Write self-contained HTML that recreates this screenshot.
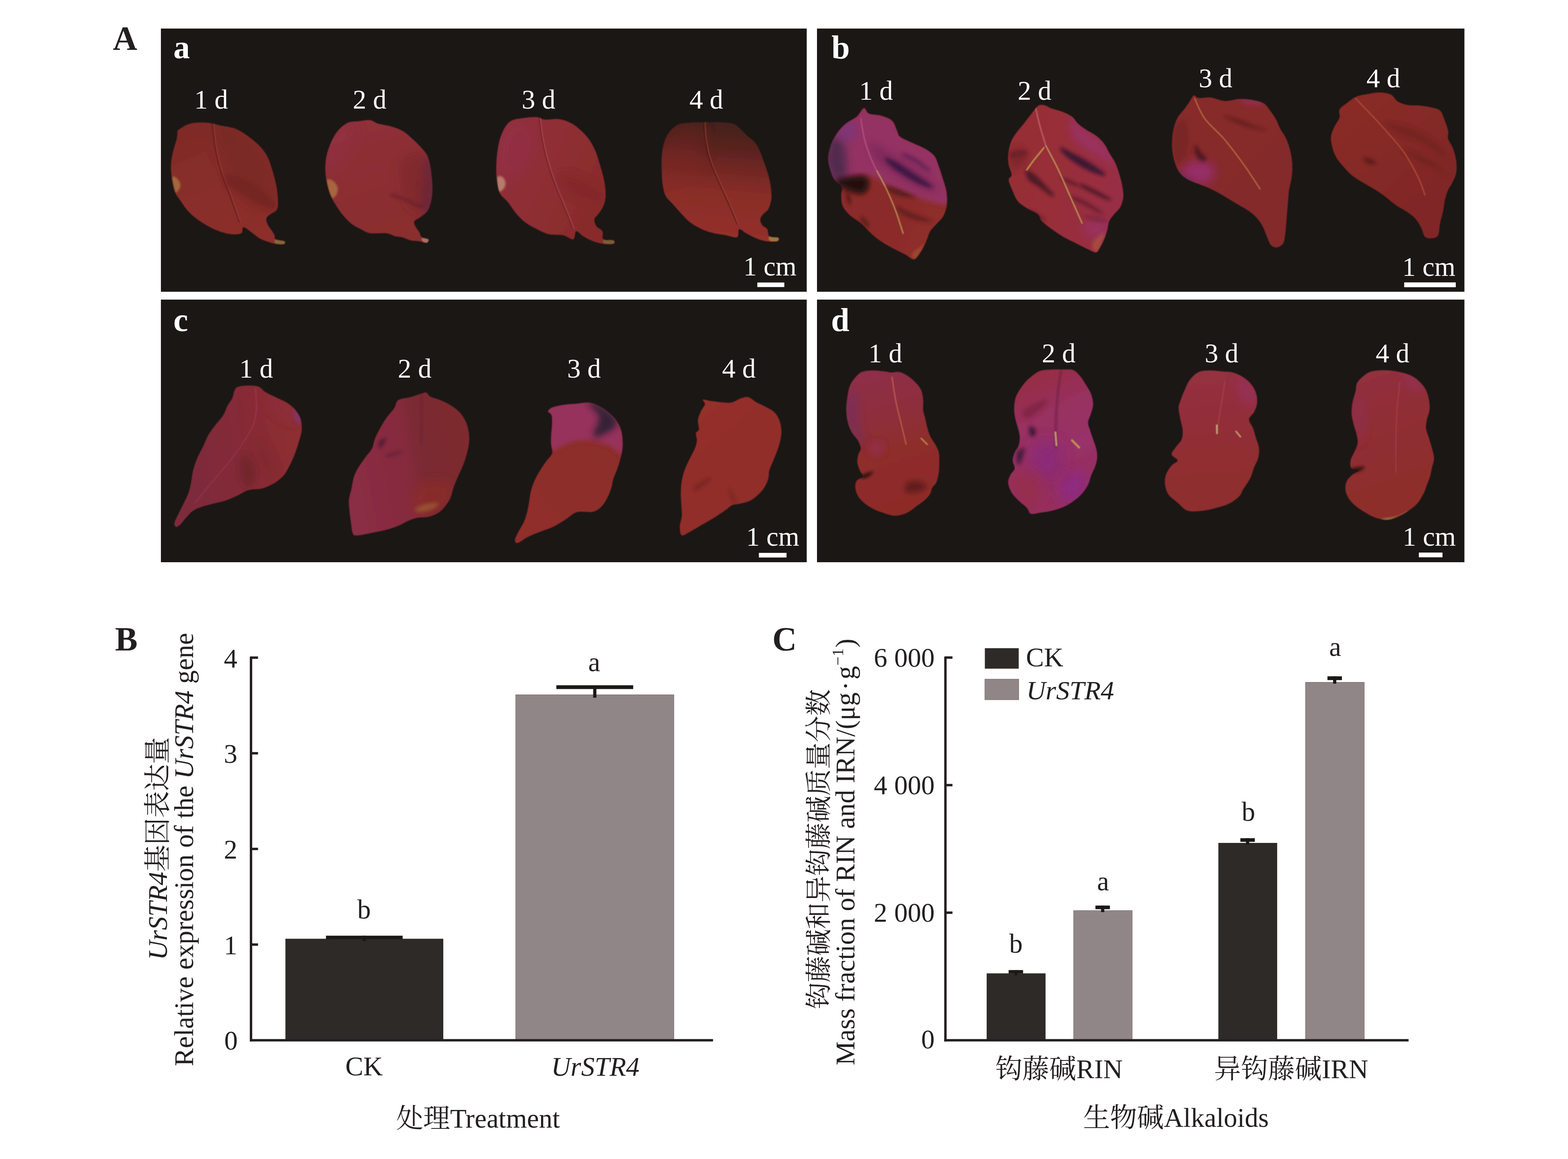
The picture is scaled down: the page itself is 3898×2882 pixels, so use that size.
<!DOCTYPE html>
<html lang="zh"><head><meta charset="utf-8"><title>Figure</title>
<style>
html,body{margin:0;padding:0;background:#fff;}
body{width:3898px;height:2882px;overflow:hidden;}
svg{display:block;}
text{font-family:"Liberation Serif","Noto Serif CJK SC",serif;}
.cj{font-family:"Noto Serif CJK SC","Liberation Serif",serif;}
</style></head><body>
<svg width="3898" height="2882" viewBox="0 0 3898 2882">
<defs>
<filter id="s1" x="-5%" y="-5%" width="110%" height="110%"><feGaussianBlur stdDeviation="1.3"/></filter>
<filter id="b2" x="-50%" y="-50%" width="200%" height="200%"><feGaussianBlur stdDeviation="2"/></filter>
<filter id="b3" x="-50%" y="-50%" width="200%" height="200%"><feGaussianBlur stdDeviation="3"/></filter>
<filter id="b4" x="-50%" y="-50%" width="200%" height="200%"><feGaussianBlur stdDeviation="4"/></filter>
<filter id="b5" x="-50%" y="-50%" width="200%" height="200%"><feGaussianBlur stdDeviation="5"/></filter>
<filter id="b6" x="-50%" y="-50%" width="200%" height="200%"><feGaussianBlur stdDeviation="6"/></filter>
<filter id="b8" x="-50%" y="-50%" width="200%" height="200%"><feGaussianBlur stdDeviation="8"/></filter>
<filter id="b10" x="-50%" y="-50%" width="200%" height="200%"><feGaussianBlur stdDeviation="10"/></filter>
<filter id="b12" x="-50%" y="-50%" width="200%" height="200%"><feGaussianBlur stdDeviation="12"/></filter>
<filter id="b16" x="-50%" y="-50%" width="200%" height="200%"><feGaussianBlur stdDeviation="16"/></filter>
<filter id="b24" x="-50%" y="-50%" width="200%" height="200%"><feGaussianBlur stdDeviation="24"/></filter>
<linearGradient id="ga1" gradientUnits="userSpaceOnUse" x1="485" y1="307.5" x2="610" y2="595"><stop offset="0" stop-color="#7e2b27"/><stop offset="0.4" stop-color="#882e2a"/><stop offset="1" stop-color="#8c2f2a"/></linearGradient>
<clipPath id="ca1"><path d="M442.5 323.8C447.7 320 460.4 310.6 472.5 307.5C484.6 304.4 502.1 304.2 515 305C527.9 305.8 538.3 310 550 312.5C561.7 315 574.2 315.8 585 320C595.8 324.2 605 330.4 615 337.5C625 344.6 636.7 353.8 645 362.5C653.3 371.2 659.6 379.6 665 390C670.4 400.4 673.8 412.5 677.5 425C681.2 437.5 685.2 451.7 687.5 465C689.8 478.3 691.2 495.4 691.2 505C691.2 514.6 690.6 517.9 687.5 522.5C684.4 527.1 676.7 529.2 672.5 532.5C668.3 535.8 663.8 538.3 662.5 542.5C661.2 546.7 662.9 552.5 665 557.5C667.1 562.5 672.1 567.9 675 572.5C677.9 577.1 680.8 581.2 682.5 585C684.2 588.8 680.8 592.5 685 595C689.2 597.5 704.2 597.9 707.5 600C710.8 602.1 708.8 606.5 705 607.5C701.2 608.5 690.8 607.1 685 606.2C679.2 605.4 676.7 604.8 670 602.5C663.3 600.2 652.5 596.7 645 592.5C637.5 588.3 631.7 582.1 625 577.5C618.3 572.9 609.2 564.6 605 565C600.8 565.4 605 577.1 600 580C595 582.9 584.2 583.3 575 582.5C565.8 581.7 554.6 578.3 545 575C535.4 571.7 526.7 567.5 517.5 562.5C508.3 557.5 498.3 551.2 490 545C481.7 538.8 474.6 532.9 467.5 525C460.4 517.1 452.9 505.4 447.5 497.5C442.1 489.6 438.3 486.2 435 477.5C431.7 468.8 429.2 456.2 427.5 445C425.8 433.8 424.6 421.2 425 410C425.4 398.8 427.7 387.9 430 377.5C432.3 367.1 436.9 355.4 438.8 347.5C440.6 339.6 440.6 334 441.2 330C441.9 326 437.3 327.5 442.5 323.8Z"/></clipPath>
<linearGradient id="ga2" gradientUnits="userSpaceOnUse" x1="880" y1="307.5" x2="980" y2="595"><stop offset="0" stop-color="#8f3039"/><stop offset="0.5" stop-color="#8c2f33"/><stop offset="1" stop-color="#8a2e2e"/></linearGradient>
<clipPath id="ca2"><path d="M865 305C873.8 301 883.3 302.3 892.5 301.2C901.7 300.2 912.1 297.7 920 298.8C927.9 299.8 931.7 305 940 307.5C948.3 310 960 310.8 970 313.8C980 316.7 990.8 319.8 1000 325C1009.2 330.2 1017.1 337.9 1025 345C1032.9 352.1 1041.2 360.4 1047.5 367.5C1053.8 374.6 1058.8 379.6 1062.5 387.5C1066.2 395.4 1068.1 405.4 1070 415C1071.9 424.6 1072.9 435 1073.8 445C1074.6 455 1075.4 465.4 1075 475C1074.6 484.6 1073.3 494.2 1071.2 502.5C1069.2 510.8 1066.9 518.8 1062.5 525C1058.1 531.2 1050.4 535.8 1045 540C1039.6 544.2 1032.1 546.2 1030 550C1027.9 553.8 1030.4 557.9 1032.5 562.5C1034.6 567.1 1039.8 572.9 1042.5 577.5C1045.2 582.1 1045 587.1 1048.8 590C1052.5 592.9 1062.9 592.7 1065 595C1067.1 597.3 1065 602.9 1061.2 603.8C1057.5 604.6 1049.4 601 1042.5 600C1035.6 599 1027.1 599.2 1020 597.5C1012.9 595.8 1006.2 591.7 1000 590C993.8 588.3 989.2 589.2 982.5 587.5C975.8 585.8 970.4 581.2 960 580C949.6 578.8 930.4 581.7 920 580C909.6 578.3 905 573.8 897.5 570C890 566.2 882.5 563.3 875 557.5C867.5 551.7 859.2 542.9 852.5 535C845.8 527.1 840 517.9 835 510C830 502.1 826 495.8 822.5 487.5C819 479.2 816 470.4 813.8 460C811.5 449.6 809.2 436.7 808.8 425C808.3 413.3 809 401.7 811.2 390C813.5 378.3 817.7 365.8 822.5 355C827.3 344.2 832.9 333.3 840 325C847.1 316.7 856.2 309 865 305Z"/></clipPath>
<linearGradient id="ga3" gradientUnits="userSpaceOnUse" x1="1237.5" y1="370" x2="1500" y2="495"><stop offset="0" stop-color="#91303c"/><stop offset="0.45" stop-color="#8f2f34"/><stop offset="0.75" stop-color="#8b2d2e"/><stop offset="1" stop-color="#892c2b"/></linearGradient>
<clipPath id="ca3"><path d="M1267.5 302.5C1276.2 296 1288.8 295.6 1300 293.8C1311.2 291.9 1325.8 290.6 1335 291.2C1344.2 291.9 1345.8 296.7 1355 297.5C1364.2 298.3 1379.2 294.8 1390 296.2C1400.8 297.7 1410.8 301.5 1420 306.2C1429.2 311 1437.5 318.1 1445 325C1452.5 331.9 1459.2 339.2 1465 347.5C1470.8 355.8 1475.8 365.4 1480 375C1484.2 384.6 1486.7 394.2 1490 405C1493.3 415.8 1497.5 429.2 1500 440C1502.5 450.8 1504.2 460.8 1505 470C1505.8 479.2 1506.2 487.1 1505 495C1503.8 502.9 1500.8 510.8 1497.5 517.5C1494.2 524.2 1488.3 530.4 1485 535C1481.7 539.6 1477.9 540.4 1477.5 545C1477.1 549.6 1479.2 557.5 1482.5 562.5C1485.8 567.5 1494.6 569.6 1497.5 575C1500.4 580.4 1495.4 591.2 1500 595C1504.6 598.8 1520.8 595.6 1525 597.5C1529.2 599.4 1529.2 604.8 1525 606.2C1520.8 607.7 1508.3 607.3 1500 606.2C1491.7 605.2 1483.3 603.1 1475 600C1466.7 596.9 1457.1 591.7 1450 587.5C1442.9 583.3 1436.7 573.8 1432.5 575C1428.3 576.2 1430.4 593.3 1425 595C1419.6 596.7 1410 587.1 1400 585C1390 582.9 1375.8 585 1365 582.5C1354.2 580 1345 575 1335 570C1325 565 1313.8 559.2 1305 552.5C1296.2 545.8 1289.6 538.3 1282.5 530C1275.4 521.7 1269.2 510.8 1262.5 502.5C1255.8 494.2 1247.1 489.6 1242.5 480C1237.9 470.4 1236.5 456.7 1235 445C1233.5 433.3 1233.3 422.5 1233.8 410C1234.2 397.5 1235.2 382.9 1237.5 370C1239.8 357.1 1242.5 343.8 1247.5 332.5C1252.5 321.2 1258.8 309 1267.5 302.5Z"/></clipPath>
<linearGradient id="ga4" gradientUnits="userSpaceOnUse" x1="1775" y1="307.5" x2="1750" y2="582.5"><stop offset="0" stop-color="#45201c"/><stop offset="0.19" stop-color="#58221f"/><stop offset="0.34" stop-color="#6c2622"/><stop offset="0.6" stop-color="#882d28"/><stop offset="1" stop-color="#94302a"/></linearGradient>
<clipPath id="ca4"><path d="M1685 310C1693.8 305.8 1704.2 306 1715 305C1725.8 304 1737.5 304 1750 303.8C1762.5 303.5 1777.9 303.1 1790 303.8C1802.1 304.4 1814.2 304.8 1822.5 307.5C1830.8 310.2 1834.2 315 1840 320C1845.8 325 1851.2 331.7 1857.5 337.5C1863.8 343.3 1872.1 348.3 1877.5 355C1882.9 361.7 1886.2 369.2 1890 377.5C1893.8 385.8 1896.7 395.4 1900 405C1903.3 414.6 1907.3 425 1910 435C1912.7 445 1915 455 1916.2 465C1917.5 475 1918.5 485.8 1917.5 495C1916.5 504.2 1913.3 513.8 1910 520C1906.7 526.2 1900.8 528.3 1897.5 532.5C1894.2 536.7 1890.4 540.4 1890 545C1889.6 549.6 1892.1 555.8 1895 560C1897.9 564.2 1904.6 565.4 1907.5 570C1910.4 574.6 1907.9 584 1912.5 587.5C1917.1 591 1931.7 589.2 1935 591.2C1938.3 593.3 1937.5 598.5 1932.5 600C1927.5 601.5 1913.8 601.2 1905 600C1896.2 598.8 1888.3 595.8 1880 592.5C1871.7 589.2 1862.1 583.8 1855 580C1847.9 576.2 1841.2 568.3 1837.5 570C1833.8 571.7 1837.9 587.5 1832.5 590C1827.1 592.5 1814.6 586.7 1805 585C1795.4 583.3 1785 582.5 1775 580C1765 577.5 1755 574.6 1745 570C1735 565.4 1723.8 559.2 1715 552.5C1706.2 545.8 1699.6 537.5 1692.5 530C1685.4 522.5 1678.8 514.6 1672.5 507.5C1666.2 500.4 1659.2 495.4 1655 487.5C1650.8 479.6 1649.2 470.4 1647.5 460C1645.8 449.6 1645.4 436.7 1645 425C1644.6 413.3 1644.2 401.2 1645 390C1645.8 378.8 1647.1 367.5 1650 357.5C1652.9 347.5 1656.7 337.9 1662.5 330C1668.3 322.1 1676.2 314.2 1685 310Z"/></clipPath>
<linearGradient id="gb1" gradientUnits="userSpaceOnUse" x1="2105" y1="475" x2="2330" y2="575"><stop offset="0" stop-color="#8a2c29"/><stop offset="1" stop-color="#8e2d2a"/></linearGradient>
<clipPath id="cb1"><path d="M2147.5 268.8C2152.5 267.5 2152.9 279.4 2160 282.5C2167.1 285.6 2180.4 284.6 2190 287.5C2199.6 290.4 2210.8 293.8 2217.5 300C2224.2 306.2 2226.7 318.3 2230 325C2233.3 331.7 2231.2 335 2237.5 340C2243.8 345 2257.1 350 2267.5 355C2277.9 360 2290.8 364.6 2300 370C2309.2 375.4 2317.1 380.8 2322.5 387.5C2327.9 394.2 2329.2 401.2 2332.5 410C2335.8 418.8 2339.2 429.2 2342.5 440C2345.8 450.8 2350.6 463.3 2352.5 475C2354.4 486.7 2355 499.6 2353.8 510C2352.5 520.4 2349 530 2345 537.5C2341 545 2335.4 548.8 2330 555C2324.6 561.2 2317.1 567.5 2312.5 575C2307.9 582.5 2306.2 591.7 2302.5 600C2298.8 608.3 2295 617.5 2290 625C2285 632.5 2279.2 643.8 2272.5 645C2265.8 646.2 2258.8 637.1 2250 632.5C2241.2 627.9 2230 622.9 2220 617.5C2210 612.1 2199.2 606.2 2190 600C2180.8 593.8 2173.3 587.5 2165 580C2156.7 572.5 2148.8 562.5 2140 555C2131.2 547.5 2120 542.1 2112.5 535C2105 527.9 2098.5 520.4 2095 512.5C2091.5 504.6 2091.7 495.4 2091.2 487.5C2090.8 479.6 2095.2 471.7 2092.5 465C2089.8 458.3 2079.6 454.2 2075 447.5C2070.4 440.8 2067.7 433.8 2065 425C2062.3 416.2 2058.8 405.4 2058.8 395C2058.8 384.6 2061.5 372.9 2065 362.5C2068.5 352.1 2073.8 341.7 2080 332.5C2086.2 323.3 2094.2 314.6 2102.5 307.5C2110.8 300.4 2122.5 296.5 2130 290C2137.5 283.5 2142.5 270 2147.5 268.8Z"/></clipPath>
<linearGradient id="gb2" gradientUnits="userSpaceOnUse" x1="2515" y1="425" x2="2790" y2="475"><stop offset="0" stop-color="#962e34"/><stop offset="0.5" stop-color="#982f3a"/><stop offset="1" stop-color="#982f46"/></linearGradient>
<clipPath id="cb2"><path d="M2580 263.8C2585.4 259.8 2589.2 260.2 2595 261.2C2600.8 262.3 2607.5 267.3 2615 270C2622.5 272.7 2631.7 274.2 2640 277.5C2648.3 280.8 2658.3 285 2665 290C2671.7 295 2674.2 302.1 2680 307.5C2685.8 312.9 2692.5 317.5 2700 322.5C2707.5 327.5 2717.5 331.7 2725 337.5C2732.5 343.3 2739.6 350.4 2745 357.5C2750.4 364.6 2752.9 372.1 2757.5 380C2762.1 387.9 2768.3 396.2 2772.5 405C2776.7 413.8 2779.6 422.9 2782.5 432.5C2785.4 442.1 2788.3 452.9 2790 462.5C2791.7 472.1 2793.3 481.2 2792.5 490C2791.7 498.8 2788.8 507.9 2785 515C2781.2 522.1 2774.6 526.7 2770 532.5C2765.4 538.3 2760.4 543.3 2757.5 550C2754.6 556.7 2754.6 565 2752.5 572.5C2750.4 580 2747.9 587.9 2745 595C2742.1 602.1 2738.3 609.6 2735 615C2731.7 620.4 2730 626.7 2725 627.5C2720 628.3 2713.3 623.8 2705 620C2696.7 616.2 2685 610 2675 605C2665 600 2655 595.8 2645 590C2635 584.2 2624.2 576.7 2615 570C2605.8 563.3 2595.8 556.2 2590 550C2584.2 543.8 2586.2 537.9 2580 532.5C2573.8 527.1 2560.8 522.9 2552.5 517.5C2544.2 512.1 2535.8 507.1 2530 500C2524.2 492.9 2521.2 483.8 2517.5 475C2513.8 466.2 2507.9 454.2 2507.5 447.5C2507.1 440.8 2515 441.2 2515 435C2515 428.8 2509 418.3 2507.5 410C2506 401.7 2505.4 394.2 2506.2 385C2507.1 375.8 2509.4 363.8 2512.5 355C2515.6 346.2 2519.6 340.4 2525 332.5C2530.4 324.6 2538.8 315.4 2545 307.5C2551.2 299.6 2556.7 292.3 2562.5 285C2568.3 277.7 2574.6 267.7 2580 263.8Z"/></clipPath>
<linearGradient id="gb3" gradientUnits="userSpaceOnUse" x1="2930" y1="295" x2="3192.5" y2="545"><stop offset="0" stop-color="#882c2c"/><stop offset="0.5" stop-color="#862b2b"/><stop offset="1" stop-color="#842a2b"/></linearGradient>
<clipPath id="cb3"><path d="M2967.5 237.5C2971.2 236 2972.9 242.9 2980 243.8C2987.1 244.6 2999.2 241.2 3010 242.5C3020.8 243.8 3033.3 250.6 3045 251.2C3056.7 251.9 3068.3 246.7 3080 246.2C3091.7 245.8 3104.6 246.9 3115 248.8C3125.4 250.6 3135.4 253.1 3142.5 257.5C3149.6 261.9 3152.5 268.3 3157.5 275C3162.5 281.7 3168.3 290 3172.5 297.5C3176.7 305 3178.3 312.1 3182.5 320C3186.7 327.9 3193.3 335.8 3197.5 345C3201.7 354.2 3205 364.6 3207.5 375C3210 385.4 3211.9 396.7 3212.5 407.5C3213.1 418.3 3212.5 429.6 3211.2 440C3210 450.4 3206.5 460.8 3205 470C3203.5 479.2 3203.3 485.8 3202.5 495C3201.7 504.2 3200.8 515 3200 525C3199.2 535 3198.3 545.4 3197.5 555C3196.7 564.6 3196.2 574.2 3195 582.5C3193.8 590.8 3193.3 599.6 3190 605C3186.7 610.4 3180 614.2 3175 615C3170 615.8 3164.2 614.2 3160 610C3155.8 605.8 3153.3 597.5 3150 590C3146.7 582.5 3144.2 572.9 3140 565C3135.8 557.1 3130.8 549.2 3125 542.5C3119.2 535.8 3112.5 530.4 3105 525C3097.5 519.6 3088.3 515 3080 510C3071.7 505 3063.3 500 3055 495C3046.7 490 3038.3 484.6 3030 480C3021.7 475.4 3013.3 471.2 3005 467.5C2996.7 463.8 2988.3 460.8 2980 457.5C2971.7 454.2 2962.5 451.7 2955 447.5C2947.5 443.3 2940.4 438.8 2935 432.5C2929.6 426.2 2925.8 418.8 2922.5 410C2919.2 401.2 2916.5 390 2915 380C2913.5 370 2913.3 360 2913.8 350C2914.2 340 2915.2 329.6 2917.5 320C2919.8 310.4 2922.9 300.8 2927.5 292.5C2932.1 284.2 2940 276.7 2945 270C2950 263.3 2953.8 257.9 2957.5 252.5C2961.2 247.1 2963.8 239 2967.5 237.5Z"/></clipPath>
<linearGradient id="gb4" gradientUnits="userSpaceOnUse" x1="3325" y1="270" x2="3575" y2="545"><stop offset="0" stop-color="#8a2b27"/><stop offset="0.5" stop-color="#842926"/><stop offset="1" stop-color="#802826"/></linearGradient>
<clipPath id="cb4"><path d="M3372.5 240C3380.8 236.5 3390.4 235.4 3400 233.8C3409.6 232.1 3420.4 229.8 3430 230C3439.6 230.2 3450 231.2 3457.5 235C3465 238.8 3467.9 248.1 3475 252.5C3482.1 256.9 3490.8 259.6 3500 261.2C3509.2 262.9 3520 261.5 3530 262.5C3540 263.5 3551.7 265.4 3560 267.5C3568.3 269.6 3575 270.4 3580 275C3585 279.6 3586.7 286.7 3590 295C3593.3 303.3 3598.3 316.7 3600 325C3601.7 333.3 3597.9 337.5 3600 345C3602.1 352.5 3609.2 360.8 3612.5 370C3615.8 379.2 3618.8 390 3620 400C3621.2 410 3621.7 420.8 3620 430C3618.3 439.2 3613.3 447.9 3610 455C3606.7 462.1 3602.9 465.8 3600 472.5C3597.1 479.2 3594.6 486.2 3592.5 495C3590.4 503.8 3589.6 515 3587.5 525C3585.4 535 3582.1 545 3580 555C3577.9 565 3578.3 578.8 3575 585C3571.7 591.2 3565.4 591.9 3560 592.5C3554.6 593.1 3547.1 593.3 3542.5 588.8C3537.9 584.2 3536.7 572.7 3532.5 565C3528.3 557.3 3523.8 549.2 3517.5 542.5C3511.2 535.8 3502.9 530.4 3495 525C3487.1 519.6 3478.3 515.8 3470 510C3461.7 504.2 3453.3 496.2 3445 490C3436.7 483.8 3429.2 478.3 3420 472.5C3410.8 466.7 3399.6 460.8 3390 455C3380.4 449.2 3370.4 443.8 3362.5 437.5C3354.6 431.2 3349.2 425 3342.5 417.5C3335.8 410 3327.5 400.8 3322.5 392.5C3317.5 384.2 3314.8 376.2 3312.5 367.5C3310.2 358.8 3307.9 348.8 3308.8 340C3309.6 331.2 3314 322.9 3317.5 315C3321 307.1 3327.9 299.6 3330 292.5C3332.1 285.4 3326.7 278.8 3330 272.5C3333.3 266.2 3342.9 260.4 3350 255C3357.1 249.6 3364.2 243.5 3372.5 240Z"/></clipPath>
<linearGradient id="gc1" gradientUnits="userSpaceOnUse" x1="485" y1="1125" x2="747.5" y2="1100"><stop offset="0" stop-color="#7e2a3c"/><stop offset="0.5" stop-color="#862c36"/><stop offset="1" stop-color="#8e2e30"/></linearGradient>
<clipPath id="cc1"><path d="M590 962.5C595.4 960.2 606.2 959 615 958.8C623.8 958.5 635 958.5 642.5 961.2C650 964 652.9 970.6 660 975C667.1 979.4 675.8 982.9 685 987.5C694.2 992.1 706.7 997.1 715 1002.5C723.3 1007.9 729.6 1013.3 735 1020C740.4 1026.7 745 1034.2 747.5 1042.5C750 1050.8 750.8 1060.4 750 1070C749.2 1079.6 745.4 1090 742.5 1100C739.6 1110 736.2 1120.4 732.5 1130C728.8 1139.6 724.6 1148.8 720 1157.5C715.4 1166.2 711.7 1175 705 1182.5C698.3 1190 689.2 1197.1 680 1202.5C670.8 1207.9 660.4 1212.3 650 1215C639.6 1217.7 627.5 1215.8 617.5 1218.8C607.5 1221.7 599.6 1228.1 590 1232.5C580.4 1236.9 570 1241.7 560 1245C550 1248.3 539.6 1250 530 1252.5C520.4 1255 510.8 1257.1 502.5 1260C494.2 1262.9 486.7 1265.4 480 1270C473.3 1274.6 467.9 1281.7 462.5 1287.5C457.1 1293.3 451.7 1301.2 447.5 1305C443.3 1308.8 439.8 1310.8 437.5 1310C435.2 1309.2 432.5 1305.8 433.8 1300C435 1294.2 441 1283.3 445 1275C449 1266.7 453.5 1258.3 457.5 1250C461.5 1241.7 465.8 1233.3 468.8 1225C471.7 1216.7 473.1 1209.2 475 1200C476.9 1190.8 477.5 1180 480 1170C482.5 1160 485.8 1150 490 1140C494.2 1130 500.4 1119.6 505 1110C509.6 1100.4 512.5 1091.2 517.5 1082.5C522.5 1073.8 528.8 1065.8 535 1057.5C541.2 1049.2 550 1040.4 555 1032.5C560 1024.6 561.2 1017.1 565 1010C568.8 1002.9 574.6 996.2 577.5 990C580.4 983.8 580.4 977.1 582.5 972.5C584.6 967.9 584.6 964.8 590 962.5Z"/></clipPath>
<linearGradient id="gc2" gradientUnits="userSpaceOnUse" x1="882.5" y1="1175" x2="1165" y2="1125"><stop offset="0" stop-color="#8a2d44"/><stop offset="0.45" stop-color="#862c3e"/><stop offset="0.6" stop-color="#7a2a32"/><stop offset="1" stop-color="#7e2a2e"/></linearGradient>
<clipPath id="cc2"><path d="M1047.5 978.8C1054.2 976.9 1056.2 975 1060 976.2C1063.8 977.5 1064.2 983.1 1070 986.2C1075.8 989.4 1086.7 991.5 1095 995C1103.3 998.5 1112.1 1002.5 1120 1007.5C1127.9 1012.5 1136.2 1018.3 1142.5 1025C1148.8 1031.7 1153.8 1039.6 1157.5 1047.5C1161.2 1055.4 1163.5 1063.8 1165 1072.5C1166.5 1081.2 1167.1 1090.4 1166.2 1100C1165.4 1109.6 1162.7 1120 1160 1130C1157.3 1140 1153.8 1150.4 1150 1160C1146.2 1169.6 1141.2 1178.8 1137.5 1187.5C1133.8 1196.2 1130.4 1204.2 1127.5 1212.5C1124.6 1220.8 1123.3 1230 1120 1237.5C1116.7 1245 1112.5 1251.2 1107.5 1257.5C1102.5 1263.8 1097.1 1270.4 1090 1275C1082.9 1279.6 1073.8 1282.9 1065 1285C1056.2 1287.1 1045.8 1285.8 1037.5 1287.5C1029.2 1289.2 1022.9 1291.7 1015 1295C1007.1 1298.3 999.2 1303.8 990 1307.5C980.8 1311.2 970.8 1314.6 960 1317.5C949.2 1320.4 936.7 1322.7 925 1325C913.3 1327.3 897.9 1330.8 890 1331.2C882.1 1331.7 880.4 1332.7 877.5 1327.5C874.6 1322.3 874 1309.6 872.5 1300C871 1290.4 869.6 1279.6 868.8 1270C867.9 1260.4 866.7 1251.7 867.5 1242.5C868.3 1233.3 871.7 1224.6 873.8 1215C875.8 1205.4 876.9 1194.2 880 1185C883.1 1175.8 887.5 1168.3 892.5 1160C897.5 1151.7 904.6 1142.5 910 1135C915.4 1127.5 921.2 1122.5 925 1115C928.8 1107.5 929.2 1098.3 932.5 1090C935.8 1081.7 940.4 1073.3 945 1065C949.6 1056.7 954.2 1048.3 960 1040C965.8 1031.7 975 1022.5 980 1015C985 1007.5 983.3 999.6 990 995C996.7 990.4 1010.4 990.2 1020 987.5C1029.6 984.8 1040.8 980.6 1047.5 978.8Z"/></clipPath>
<linearGradient id="gc3" gradientUnits="userSpaceOnUse" x1="1305" y1="1325" x2="1530" y2="1125"><stop offset="0" stop-color="#902e29"/><stop offset="1" stop-color="#8c2d29"/></linearGradient>
<clipPath id="cc3"><path d="M1362.5 1022.5C1363.1 1019.2 1367.9 1015.2 1375 1012.5C1382.1 1009.8 1395 1007.7 1405 1006.2C1415 1004.8 1425 1004.6 1435 1003.8C1445 1002.9 1455.8 1000.2 1465 1001.2C1474.2 1002.3 1482.1 1006 1490 1010C1497.9 1014 1505.8 1019.6 1512.5 1025C1519.2 1030.4 1525 1035.8 1530 1042.5C1535 1049.2 1539.6 1057.1 1542.5 1065C1545.4 1072.9 1546.7 1081.7 1547.5 1090C1548.3 1098.3 1548.3 1106.7 1547.5 1115C1546.7 1123.3 1544.6 1131.7 1542.5 1140C1540.4 1148.3 1537.9 1156.7 1535 1165C1532.1 1173.3 1527.5 1182.1 1525 1190C1522.5 1197.9 1522.5 1204.6 1520 1212.5C1517.5 1220.4 1514.2 1229.6 1510 1237.5C1505.8 1245.4 1500.8 1254.2 1495 1260C1489.2 1265.8 1482.5 1270.4 1475 1272.5C1467.5 1274.6 1457.5 1272.1 1450 1272.5C1442.5 1272.9 1437.5 1271.7 1430 1275C1422.5 1278.3 1414.2 1286.7 1405 1292.5C1395.8 1298.3 1385.4 1305 1375 1310C1364.6 1315 1352.9 1318.3 1342.5 1322.5C1332.1 1326.7 1321.7 1330.4 1312.5 1335C1303.3 1339.6 1292.9 1348.8 1287.5 1350C1282.1 1351.2 1279.6 1347.5 1280 1342.5C1280.4 1337.5 1286.2 1327.5 1290 1320C1293.8 1312.5 1299.2 1305 1302.5 1297.5C1305.8 1290 1307.9 1282.9 1310 1275C1312.1 1267.1 1313.3 1259.2 1315 1250C1316.7 1240.8 1317.5 1229.6 1320 1220C1322.5 1210.4 1326.2 1200.8 1330 1192.5C1333.8 1184.2 1337.9 1177.5 1342.5 1170C1347.1 1162.5 1352.5 1154.6 1357.5 1147.5C1362.5 1140.4 1370.4 1134.6 1372.5 1127.5C1374.6 1120.4 1370.4 1112.1 1370 1105C1369.6 1097.9 1369.6 1093.3 1370 1085C1370.4 1076.7 1372.3 1063.8 1372.5 1055C1372.7 1046.2 1372.9 1037.9 1371.2 1032.5C1369.6 1027.1 1361.9 1025.8 1362.5 1022.5Z"/></clipPath>
<linearGradient id="gc4" gradientUnits="userSpaceOnUse" x1="1705" y1="1025" x2="1905" y2="1275"><stop offset="0" stop-color="#94302b"/><stop offset="1" stop-color="#902e2a"/></linearGradient>
<clipPath id="cc4"><path d="M1747.5 993.8C1750.4 992.5 1758.8 996.2 1770 997.5C1781.2 998.8 1803.3 1002.3 1815 1001.2C1826.7 1000.2 1832.5 993.5 1840 991.2C1847.5 989 1853.3 986 1860 987.5C1866.7 989 1872.5 995.8 1880 1000C1887.5 1004.2 1897.5 1008.3 1905 1012.5C1912.5 1016.7 1919.6 1019.6 1925 1025C1930.4 1030.4 1934.6 1037.5 1937.5 1045C1940.4 1052.5 1942.1 1061.7 1942.5 1070C1942.9 1078.3 1941.7 1086.7 1940 1095C1938.3 1103.3 1935.4 1111.7 1932.5 1120C1929.6 1128.3 1925.8 1136.7 1922.5 1145C1919.2 1153.3 1914.6 1162.5 1912.5 1170C1910.4 1177.5 1912.1 1182.9 1910 1190C1907.9 1197.1 1904.2 1205.8 1900 1212.5C1895.8 1219.2 1890.8 1224.6 1885 1230C1879.2 1235.4 1872.5 1241.2 1865 1245C1857.5 1248.8 1847.5 1250.6 1840 1252.5C1832.5 1254.4 1825.8 1253.8 1820 1256.2C1814.2 1258.8 1812.5 1262.3 1805 1267.5C1797.5 1272.7 1785 1281.2 1775 1287.5C1765 1293.8 1755 1299.2 1745 1305C1735 1310.8 1723.3 1318.1 1715 1322.5C1706.7 1326.9 1699.2 1333.3 1695 1331.2C1690.8 1329.2 1690 1318.1 1690 1310C1690 1301.9 1694.4 1291.7 1695 1282.5C1695.6 1273.3 1694.2 1264.6 1693.8 1255C1693.3 1245.4 1692.3 1235 1692.5 1225C1692.7 1215 1693.3 1204.6 1695 1195C1696.7 1185.4 1699.2 1176.7 1702.5 1167.5C1705.8 1158.3 1710.8 1148.8 1715 1140C1719.2 1131.2 1724.6 1122.5 1727.5 1115C1730.4 1107.5 1732.1 1101.2 1732.5 1095C1732.9 1088.8 1729.2 1082.1 1730 1077.5C1730.8 1072.9 1736.7 1072.9 1737.5 1067.5C1738.3 1062.1 1734.2 1052.5 1735 1045C1735.8 1037.5 1739.6 1029.2 1742.5 1022.5C1745.4 1015.8 1751.7 1009.8 1752.5 1005C1753.3 1000.2 1744.6 995 1747.5 993.8Z"/></clipPath>
<linearGradient id="gd1" gradientUnits="userSpaceOnUse" x1="2155" y1="937.5" x2="2255" y2="1262.5"><stop offset="0" stop-color="#8e2e48"/><stop offset="0.35" stop-color="#8e2e3a"/><stop offset="0.55" stop-color="#8e2d2c"/><stop offset="1" stop-color="#8e2c28"/></linearGradient>
<clipPath id="cd1"><path d="M2142.5 925C2150 921.9 2160.4 921.5 2170 921.2C2179.6 921 2192.5 922.9 2200 923.8C2207.5 924.6 2209.2 926 2215 926.2C2220.8 926.5 2228.3 923.8 2235 925C2241.7 926.2 2248.3 929.6 2255 933.8C2261.7 937.9 2269.2 944 2275 950C2280.8 956 2286.7 962.5 2290 970C2293.3 977.5 2294.2 986.7 2295 995C2295.8 1003.3 2294.2 1012.5 2295 1020C2295.8 1027.5 2298.3 1032.9 2300 1040C2301.7 1047.1 2302.9 1055 2305 1062.5C2307.1 1070 2309.2 1077.9 2312.5 1085C2315.8 1092.1 2321.5 1098.3 2325 1105C2328.5 1111.7 2332.1 1117.5 2333.8 1125C2335.4 1132.5 2335 1141.7 2335 1150C2335 1158.3 2335 1166.7 2333.8 1175C2332.5 1183.3 2330.2 1193.8 2327.5 1200C2324.8 1206.2 2320 1207.9 2317.5 1212.5C2315 1217.1 2315.4 1222.5 2312.5 1227.5C2309.6 1232.5 2305.4 1237.5 2300 1242.5C2294.6 1247.5 2287.5 1252.1 2280 1257.5C2272.5 1262.9 2264.2 1270.8 2255 1275C2245.8 1279.2 2235 1282.5 2225 1282.5C2215 1282.5 2204.2 1277.9 2195 1275C2185.8 1272.1 2177.9 1269.2 2170 1265C2162.1 1260.8 2153.8 1255.4 2147.5 1250C2141.2 1244.6 2136 1238.8 2132.5 1232.5C2129 1226.2 2126.7 1218.8 2126.2 1212.5C2125.8 1206.2 2126.9 1199.6 2130 1195C2133.1 1190.4 2143.8 1189.2 2145 1185C2146.2 1180.8 2139.8 1175.8 2137.5 1170C2135.2 1164.2 2131.9 1156.7 2131.2 1150C2130.6 1143.3 2132.3 1135.8 2133.8 1130C2135.2 1124.2 2140.2 1120.8 2140 1115C2139.8 1109.2 2136.2 1101.7 2132.5 1095C2128.8 1088.3 2121.7 1082.5 2117.5 1075C2113.3 1067.5 2109.8 1059.2 2107.5 1050C2105.2 1040.8 2104 1030 2103.8 1020C2103.5 1010 2104.8 1000 2106.2 990C2107.7 980 2109.4 968.3 2112.5 960C2115.6 951.7 2120 945.8 2125 940C2130 934.2 2135 928.1 2142.5 925Z"/></clipPath>
<linearGradient id="gd2" gradientUnits="userSpaceOnUse" x1="2540" y1="950" x2="2690" y2="1250"><stop offset="0" stop-color="#962e44"/><stop offset="0.3" stop-color="#983060"/><stop offset="0.6" stop-color="#983068"/><stop offset="1" stop-color="#962f5c"/></linearGradient>
<clipPath id="cd2"><path d="M2585 922.5C2593.8 919.4 2605 919.4 2615 918.8C2625 918.1 2636.2 918.5 2645 918.8C2653.8 919 2660.8 917.3 2667.5 920C2674.2 922.7 2679.6 928.8 2685 935C2690.4 941.2 2695.4 950 2700 957.5C2704.6 965 2709.6 972.1 2712.5 980C2715.4 987.9 2717.5 997.1 2717.5 1005C2717.5 1012.9 2714.6 1020 2712.5 1027.5C2710.4 1035 2705.4 1042.9 2705 1050C2704.6 1057.1 2707.9 1062.9 2710 1070C2712.1 1077.1 2715 1085 2717.5 1092.5C2720 1100 2723.3 1107.5 2725 1115C2726.7 1122.5 2727.9 1130 2727.5 1137.5C2727.1 1145 2725 1152.5 2722.5 1160C2720 1167.5 2715.4 1175 2712.5 1182.5C2709.6 1190 2708.8 1197.5 2705 1205C2701.2 1212.5 2695.8 1220.8 2690 1227.5C2684.2 1234.2 2677.5 1239.6 2670 1245C2662.5 1250.4 2654.2 1255.8 2645 1260C2635.8 1264.2 2625 1267.5 2615 1270C2605 1272.5 2593.8 1273.8 2585 1275C2576.2 1276.2 2567.9 1279.6 2562.5 1277.5C2557.1 1275.4 2557.5 1267.9 2552.5 1262.5C2547.5 1257.1 2538.8 1251.2 2532.5 1245C2526.2 1238.8 2519.4 1232.5 2515 1225C2510.6 1217.5 2506.7 1207.5 2506.2 1200C2505.8 1192.5 2509.8 1185.8 2512.5 1180C2515.2 1174.2 2521.7 1170.8 2522.5 1165C2523.3 1159.2 2517.5 1151.7 2517.5 1145C2517.5 1138.3 2520 1131.2 2522.5 1125C2525 1118.8 2530.4 1114.2 2532.5 1107.5C2534.6 1100.8 2535.4 1092.5 2535 1085C2534.6 1077.5 2531.9 1070 2530 1062.5C2528.1 1055 2525.2 1047.9 2523.8 1040C2522.3 1032.1 2520.8 1024.2 2521.2 1015C2521.7 1005.8 2522.3 995 2526.2 985C2530.2 975 2539 962.9 2545 955C2551 947.1 2555.8 942.9 2562.5 937.5C2569.2 932.1 2576.2 925.6 2585 922.5Z"/></clipPath>
<linearGradient id="gd3" gradientUnits="userSpaceOnUse" x1="2990" y1="925" x2="3015" y2="1262.5"><stop offset="0" stop-color="#943042"/><stop offset="0.4" stop-color="#922f38"/><stop offset="0.7" stop-color="#902e30"/><stop offset="1" stop-color="#8e2e2e"/></linearGradient>
<clipPath id="cd3"><path d="M2980 925C2988.8 921 3000 921.5 3010 921.2C3020 921 3030.8 922.9 3040 923.8C3049.2 924.6 3056.7 924 3065 926.2C3073.3 928.5 3082.5 932.7 3090 937.5C3097.5 942.3 3104.6 948.3 3110 955C3115.4 961.7 3120 969.6 3122.5 977.5C3125 985.4 3125.8 994.6 3125 1002.5C3124.2 1010.4 3120.8 1018.3 3117.5 1025C3114.2 1031.7 3105.4 1035.8 3105 1042.5C3104.6 1049.2 3112.1 1057.1 3115 1065C3117.9 1072.9 3120 1081.7 3122.5 1090C3125 1098.3 3129.2 1106.7 3130 1115C3130.8 1123.3 3129.6 1132.1 3127.5 1140C3125.4 1147.9 3120.4 1155 3117.5 1162.5C3114.6 1170 3112.9 1178.3 3110 1185C3107.1 1191.7 3103.3 1197.1 3100 1202.5C3096.7 1207.9 3093.3 1212.1 3090 1217.5C3086.7 1222.9 3085.8 1229.2 3080 1235C3074.2 1240.8 3064.2 1247.9 3055 1252.5C3045.8 1257.1 3035.8 1259.6 3025 1262.5C3014.2 1265.4 3002.1 1268.8 2990 1270C2977.9 1271.2 2962.9 1273.3 2952.5 1270C2942.1 1266.7 2935.4 1256.7 2927.5 1250C2919.6 1243.3 2910.2 1237.5 2905 1230C2899.8 1222.5 2897.3 1213.3 2896.2 1205C2895.2 1196.7 2896 1187.9 2898.8 1180C2901.5 1172.1 2907.7 1163.3 2912.5 1157.5C2917.3 1151.7 2927.5 1149.6 2927.5 1145C2927.5 1140.4 2913.3 1135.4 2912.5 1130C2911.7 1124.6 2918.3 1118.8 2922.5 1112.5C2926.7 1106.2 2934.6 1099.6 2937.5 1092.5C2940.4 1085.4 2940.4 1077.9 2940 1070C2939.6 1062.1 2936.7 1054.2 2935 1045C2933.3 1035.8 2930 1023.3 2930 1015C2930 1006.7 2932.5 1002.5 2935 995C2937.5 987.5 2941.2 978.3 2945 970C2948.8 961.7 2951.7 952.5 2957.5 945C2963.3 937.5 2971.2 929 2980 925Z"/></clipPath>
<linearGradient id="gd4" gradientUnits="userSpaceOnUse" x1="3375" y1="937.5" x2="3500" y2="1275"><stop offset="0" stop-color="#92303e"/><stop offset="0.4" stop-color="#902e34"/><stop offset="0.7" stop-color="#8e2d2d"/><stop offset="1" stop-color="#8e2d2b"/></linearGradient>
<clipPath id="cd4"><path d="M3400 927.5C3408.3 922.7 3415.8 922.3 3425 921.2C3434.2 920.2 3445 920.4 3455 921.2C3465 922.1 3475.8 924 3485 926.2C3494.2 928.5 3502.5 931 3510 935C3517.5 939 3524.2 944.2 3530 950C3535.8 955.8 3541.2 962.5 3545 970C3548.8 977.5 3551 986.7 3552.5 995C3554 1003.3 3554.6 1012.1 3553.8 1020C3552.9 1027.9 3549 1035 3547.5 1042.5C3546 1050 3544.2 1057.1 3545 1065C3545.8 1072.9 3550 1081.7 3552.5 1090C3555 1098.3 3557.9 1106.7 3560 1115C3562.1 1123.3 3565 1132.1 3565 1140C3565 1147.9 3561.7 1155 3560 1162.5C3558.3 1170 3557.1 1177.9 3555 1185C3552.9 1192.1 3550 1198.3 3547.5 1205C3545 1211.7 3543.8 1217.5 3540 1225C3536.2 1232.5 3530.8 1242.9 3525 1250C3519.2 1257.1 3512.5 1262.1 3505 1267.5C3497.5 1272.9 3489.2 1278.3 3480 1282.5C3470.8 1286.7 3460 1291.7 3450 1292.5C3440 1293.3 3429.2 1290.4 3420 1287.5C3410.8 1284.6 3402.9 1279.6 3395 1275C3387.1 1270.4 3379.2 1265.4 3372.5 1260C3365.8 1254.6 3359.6 1249.2 3355 1242.5C3350.4 1235.8 3346.2 1227.5 3345 1220C3343.8 1212.5 3344.6 1204.2 3347.5 1197.5C3350.4 1190.8 3357.1 1184.8 3362.5 1180C3367.9 1175.2 3380.4 1171.2 3380 1168.8C3379.6 1166.2 3363.8 1169 3360 1165C3356.2 1161 3356.2 1152.1 3357.5 1145C3358.8 1137.9 3364.6 1129.6 3367.5 1122.5C3370.4 1115.4 3374.2 1109.6 3375 1102.5C3375.8 1095.4 3374.2 1087.9 3372.5 1080C3370.8 1072.1 3367.1 1063.8 3365 1055C3362.9 1046.2 3360.4 1036.7 3360 1027.5C3359.6 1018.3 3360.8 1009.2 3362.5 1000C3364.2 990.8 3367.9 980.8 3370 972.5C3372.1 964.2 3370 957.5 3375 950C3380 942.5 3391.7 932.3 3400 927.5Z"/></clipPath>
</defs>
<rect x="400" y="71" width="1605.5" height="654.5" fill="#1b1715"/>
<rect x="2031" y="71" width="1609.5" height="654.5" fill="#1b1715"/>
<rect x="400" y="745" width="1605.5" height="653" fill="#1b1715"/>
<rect x="2031" y="745" width="1609.5" height="653" fill="#1b1715"/>
<g filter="url(#s1)">
<path d="M442.5 323.8C447.7 320 460.4 310.6 472.5 307.5C484.6 304.4 502.1 304.2 515 305C527.9 305.8 538.3 310 550 312.5C561.7 315 574.2 315.8 585 320C595.8 324.2 605 330.4 615 337.5C625 344.6 636.7 353.8 645 362.5C653.3 371.2 659.6 379.6 665 390C670.4 400.4 673.8 412.5 677.5 425C681.2 437.5 685.2 451.7 687.5 465C689.8 478.3 691.2 495.4 691.2 505C691.2 514.6 690.6 517.9 687.5 522.5C684.4 527.1 676.7 529.2 672.5 532.5C668.3 535.8 663.8 538.3 662.5 542.5C661.2 546.7 662.9 552.5 665 557.5C667.1 562.5 672.1 567.9 675 572.5C677.9 577.1 680.8 581.2 682.5 585C684.2 588.8 680.8 592.5 685 595C689.2 597.5 704.2 597.9 707.5 600C710.8 602.1 708.8 606.5 705 607.5C701.2 608.5 690.8 607.1 685 606.2C679.2 605.4 676.7 604.8 670 602.5C663.3 600.2 652.5 596.7 645 592.5C637.5 588.3 631.7 582.1 625 577.5C618.3 572.9 609.2 564.6 605 565C600.8 565.4 605 577.1 600 580C595 582.9 584.2 583.3 575 582.5C565.8 581.7 554.6 578.3 545 575C535.4 571.7 526.7 567.5 517.5 562.5C508.3 557.5 498.3 551.2 490 545C481.7 538.8 474.6 532.9 467.5 525C460.4 517.1 452.9 505.4 447.5 497.5C442.1 489.6 438.3 486.2 435 477.5C431.7 468.8 429.2 456.2 427.5 445C425.8 433.8 424.6 421.2 425 410C425.4 398.8 427.7 387.9 430 377.5C432.3 367.1 436.9 355.4 438.8 347.5C440.6 339.6 440.6 334 441.2 330C441.9 326 437.3 327.5 442.5 323.8Z" fill="url(#ga1)"/>
<g clip-path="url(#ca1)">
<path d="M540 307.5C550.8 300 594.2 323.8 615 337.5C635.8 351.2 652.9 368.8 665 390C677.1 411.2 683.1 445.8 687.5 465C691.9 484.2 695.8 495.8 691.2 505C686.7 514.2 673.5 521.7 660 520C646.5 518.3 624.6 507.5 610 495C595.4 482.5 582.5 463.8 572.5 445C562.5 426.2 555.4 405.4 550 382.5C544.6 359.6 529.2 315 540 307.5Z" fill="#6e2523" opacity="0.45" filter="url(#b16)"/>
<path d="M527.5 307.5C528.8 317.9 531.2 349.6 535 370C538.8 390.4 544.2 411.2 550 430C555.8 448.8 562.5 462.1 570 482.5C577.5 502.9 590.8 540.8 595 552.5" fill="none" stroke="#5c1d1c" stroke-width="3" stroke-linecap="round" opacity="0.8"/>
<path d="M531.2 307.5C532.5 317.9 535 349.6 538.8 370C542.5 390.4 547.9 411.2 553.8 430C559.6 448.8 566.4 462.1 573.8 482.5C581.1 502.9 594 540.8 598 552.5" fill="none" stroke="#a84038" stroke-width="1.5" stroke-linecap="round" opacity="0.8"/>
<path d="M560 432.5C567.5 430.8 593.3 441.2 610 450C626.7 458.8 647.1 475 660 485C672.9 495 685 504.2 687.5 510C690 515.8 683.8 521.2 675 520C666.2 518.8 647.9 509.2 635 502.5C622.1 495.8 609.2 487.1 597.5 480C585.8 472.9 571.2 467.9 565 460C558.8 452.1 552.5 434.2 560 432.5Z" fill="#6a2322" opacity="0.5" filter="url(#b6)"/>
<path d="M428.8 438.8C430.5 437.5 435.6 439.8 438.8 442.5C441.9 445.2 446.1 450.8 447.5 455C448.9 459.2 448.7 463.5 447 467.5C445.3 471.5 439.9 478.8 437.5 478.8C435.1 478.8 434 472.3 432.5 467.5C431 462.7 429.1 454.8 428.5 450C427.9 445.2 427 440 428.8 438.8Z" fill="#b07a44" opacity="0.75" filter="url(#b2)"/>
<path d="M683.8 596.2C685.4 594.5 691 594.3 695 595C699 595.7 705.8 598.5 707.5 600.5C709.2 602.5 708.8 606.1 705 607C701.2 607.9 688.5 607.5 685 605.8C681.5 604 682.1 598 683.8 596.2Z" fill="#8a7040" opacity="0.8"/>
</g></g>
<g filter="url(#s1)">
<path d="M865 305C873.8 301 883.3 302.3 892.5 301.2C901.7 300.2 912.1 297.7 920 298.8C927.9 299.8 931.7 305 940 307.5C948.3 310 960 310.8 970 313.8C980 316.7 990.8 319.8 1000 325C1009.2 330.2 1017.1 337.9 1025 345C1032.9 352.1 1041.2 360.4 1047.5 367.5C1053.8 374.6 1058.8 379.6 1062.5 387.5C1066.2 395.4 1068.1 405.4 1070 415C1071.9 424.6 1072.9 435 1073.8 445C1074.6 455 1075.4 465.4 1075 475C1074.6 484.6 1073.3 494.2 1071.2 502.5C1069.2 510.8 1066.9 518.8 1062.5 525C1058.1 531.2 1050.4 535.8 1045 540C1039.6 544.2 1032.1 546.2 1030 550C1027.9 553.8 1030.4 557.9 1032.5 562.5C1034.6 567.1 1039.8 572.9 1042.5 577.5C1045.2 582.1 1045 587.1 1048.8 590C1052.5 592.9 1062.9 592.7 1065 595C1067.1 597.3 1065 602.9 1061.2 603.8C1057.5 604.6 1049.4 601 1042.5 600C1035.6 599 1027.1 599.2 1020 597.5C1012.9 595.8 1006.2 591.7 1000 590C993.8 588.3 989.2 589.2 982.5 587.5C975.8 585.8 970.4 581.2 960 580C949.6 578.8 930.4 581.7 920 580C909.6 578.3 905 573.8 897.5 570C890 566.2 882.5 563.3 875 557.5C867.5 551.7 859.2 542.9 852.5 535C845.8 527.1 840 517.9 835 510C830 502.1 826 495.8 822.5 487.5C819 479.2 816 470.4 813.8 460C811.5 449.6 809.2 436.7 808.8 425C808.3 413.3 809 401.7 811.2 390C813.5 378.3 817.7 365.8 822.5 355C827.3 344.2 832.9 333.3 840 325C847.1 316.7 856.2 309 865 305Z" fill="url(#ga2)"/>
<g clip-path="url(#ca2)">
<path d="M1055 390C1059.2 385.8 1075.8 398.3 1080 420C1084.2 441.7 1084.2 500 1080 520C1075.8 540 1060 544.2 1055 540C1050 535.8 1050 510.8 1050 495C1050 479.2 1054.2 462.5 1055 445C1055.8 427.5 1050.8 394.2 1055 390Z" fill="#4e2850" opacity="0.5" filter="url(#b10)"/>
<path d="M805 345C814.6 322.9 851.7 300 865 300C878.3 300 888.8 325 885 345C881.2 365 855.4 405.4 842.5 420C829.6 434.6 813.8 445 807.5 432.5C801.2 420 795.4 367.1 805 345Z" fill="#963056" opacity="0.25" filter="url(#b16)"/>
<path d="M1005 395C1013.3 381.7 1043.8 381.7 1055 390C1066.2 398.3 1070.4 425.4 1072.5 445C1074.6 464.6 1074.6 495 1067.5 507.5C1060.4 520 1040.4 526.2 1030 520C1019.6 513.8 1009.2 490.8 1005 470C1000.8 449.2 996.7 408.3 1005 395Z" fill="#6e2428" opacity="0.4" filter="url(#b16)"/>
<path d="M972.5 485C977.9 486.7 994.6 490.8 1005 495C1015.4 499.2 1027.5 507.1 1035 510C1042.5 512.9 1047.5 512.1 1050 512.5" fill="none" stroke="#5a1e2a" stroke-width="6" stroke-linecap="round" opacity="0.6" filter="url(#b3)"/>
<path d="M813 447C815.1 444.4 823.2 446.5 827.5 449.5C831.8 452.5 837.4 459.5 839 465C840.6 470.5 838.9 477.9 837 482.5C835.1 487.1 830.3 492.5 827.5 492.5C824.7 492.5 822.1 487.1 820 482.5C817.9 477.9 816.2 470.9 815 465C813.8 459.1 810.9 449.6 813 447Z" fill="#b07a44" opacity="0.75" filter="url(#b2)"/>
<path d="M1048.8 592C1051 591 1062.9 593.1 1065 595C1067.1 596.9 1063.5 602.3 1061.2 603.2C1059 604.2 1053.3 602.6 1051.2 600.8C1049.2 598.9 1046.5 593 1048.8 592Z" fill="#b08070" opacity="0.8"/>
</g></g>
<g filter="url(#s1)">
<path d="M1267.5 302.5C1276.2 296 1288.8 295.6 1300 293.8C1311.2 291.9 1325.8 290.6 1335 291.2C1344.2 291.9 1345.8 296.7 1355 297.5C1364.2 298.3 1379.2 294.8 1390 296.2C1400.8 297.7 1410.8 301.5 1420 306.2C1429.2 311 1437.5 318.1 1445 325C1452.5 331.9 1459.2 339.2 1465 347.5C1470.8 355.8 1475.8 365.4 1480 375C1484.2 384.6 1486.7 394.2 1490 405C1493.3 415.8 1497.5 429.2 1500 440C1502.5 450.8 1504.2 460.8 1505 470C1505.8 479.2 1506.2 487.1 1505 495C1503.8 502.9 1500.8 510.8 1497.5 517.5C1494.2 524.2 1488.3 530.4 1485 535C1481.7 539.6 1477.9 540.4 1477.5 545C1477.1 549.6 1479.2 557.5 1482.5 562.5C1485.8 567.5 1494.6 569.6 1497.5 575C1500.4 580.4 1495.4 591.2 1500 595C1504.6 598.8 1520.8 595.6 1525 597.5C1529.2 599.4 1529.2 604.8 1525 606.2C1520.8 607.7 1508.3 607.3 1500 606.2C1491.7 605.2 1483.3 603.1 1475 600C1466.7 596.9 1457.1 591.7 1450 587.5C1442.9 583.3 1436.7 573.8 1432.5 575C1428.3 576.2 1430.4 593.3 1425 595C1419.6 596.7 1410 587.1 1400 585C1390 582.9 1375.8 585 1365 582.5C1354.2 580 1345 575 1335 570C1325 565 1313.8 559.2 1305 552.5C1296.2 545.8 1289.6 538.3 1282.5 530C1275.4 521.7 1269.2 510.8 1262.5 502.5C1255.8 494.2 1247.1 489.6 1242.5 480C1237.9 470.4 1236.5 456.7 1235 445C1233.5 433.3 1233.3 422.5 1233.8 410C1234.2 397.5 1235.2 382.9 1237.5 370C1239.8 357.1 1242.5 343.8 1247.5 332.5C1252.5 321.2 1258.8 309 1267.5 302.5Z" fill="url(#ga3)"/>
<g clip-path="url(#ca3)">
<path d="M1340 292.5C1341.2 301.2 1344.2 327.1 1347.5 345C1350.8 362.9 1354.6 380.8 1360 400C1365.4 419.2 1372.5 440 1380 460C1387.5 480 1397.5 501.7 1405 520C1412.5 538.3 1421.7 561.7 1425 570" fill="none" stroke="#6a2024" stroke-width="3" stroke-linecap="round" opacity="0.7"/>
<path d="M1343 292.5C1344.2 301.2 1347.2 327.1 1350.5 345C1353.8 362.9 1357.6 380.8 1363 400C1368.4 419.2 1375.5 440 1383 460C1390.5 480 1400.6 501.7 1408 520C1415.4 538.3 1424.2 561.7 1427.5 570" fill="none" stroke="#c05868" stroke-width="1.5" stroke-linecap="round" opacity="0.8"/>
<path d="M1390 430C1398.3 425.8 1431.7 436.2 1450 445C1468.3 453.8 1492.5 472.1 1500 482.5C1507.5 492.9 1503.3 505.4 1495 507.5C1486.7 509.6 1465.8 501.2 1450 495C1434.2 488.8 1410 480.8 1400 470C1390 459.2 1381.7 434.2 1390 430Z" fill="#7a2428" opacity="0.4" filter="url(#b10)"/>
<path d="M1245 332.5C1255.8 316.2 1285.8 295.4 1300 297.5C1314.2 299.6 1327.9 324.6 1330 345C1332.1 365.4 1325.8 403.3 1312.5 420C1299.2 436.7 1262.9 449.2 1250 445C1237.1 440.8 1235.8 413.8 1235 395C1234.2 376.2 1234.2 348.8 1245 332.5Z" fill="#983058" opacity="0.3" filter="url(#b16)"/>
<path d="M1236.8 439.5C1239.1 436.2 1246.2 438.1 1249.5 440.5C1252.8 442.9 1255.9 449.2 1256.5 453.8C1257.1 458.3 1255.7 464.2 1253 468C1250.3 471.8 1243.4 477.8 1240.5 476.5C1237.6 475.2 1236.1 466.2 1235.5 460C1234.9 453.8 1234.4 442.8 1236.8 439.5Z" fill="#c09078" opacity="0.8" filter="url(#b2)"/>
<path d="M1500 597C1501.7 595.1 1508.2 594.2 1512.5 594.5C1516.8 594.8 1523.8 597.1 1525.8 599C1527.8 600.9 1528.4 604.6 1524.5 605.8C1520.6 606.9 1506.6 607.2 1502.5 605.8C1498.4 604.3 1498.3 598.9 1500 597Z" fill="#7a6a3a" opacity="0.8"/>
</g></g>
<g filter="url(#s1)">
<path d="M1685 310C1693.8 305.8 1704.2 306 1715 305C1725.8 304 1737.5 304 1750 303.8C1762.5 303.5 1777.9 303.1 1790 303.8C1802.1 304.4 1814.2 304.8 1822.5 307.5C1830.8 310.2 1834.2 315 1840 320C1845.8 325 1851.2 331.7 1857.5 337.5C1863.8 343.3 1872.1 348.3 1877.5 355C1882.9 361.7 1886.2 369.2 1890 377.5C1893.8 385.8 1896.7 395.4 1900 405C1903.3 414.6 1907.3 425 1910 435C1912.7 445 1915 455 1916.2 465C1917.5 475 1918.5 485.8 1917.5 495C1916.5 504.2 1913.3 513.8 1910 520C1906.7 526.2 1900.8 528.3 1897.5 532.5C1894.2 536.7 1890.4 540.4 1890 545C1889.6 549.6 1892.1 555.8 1895 560C1897.9 564.2 1904.6 565.4 1907.5 570C1910.4 574.6 1907.9 584 1912.5 587.5C1917.1 591 1931.7 589.2 1935 591.2C1938.3 593.3 1937.5 598.5 1932.5 600C1927.5 601.5 1913.8 601.2 1905 600C1896.2 598.8 1888.3 595.8 1880 592.5C1871.7 589.2 1862.1 583.8 1855 580C1847.9 576.2 1841.2 568.3 1837.5 570C1833.8 571.7 1837.9 587.5 1832.5 590C1827.1 592.5 1814.6 586.7 1805 585C1795.4 583.3 1785 582.5 1775 580C1765 577.5 1755 574.6 1745 570C1735 565.4 1723.8 559.2 1715 552.5C1706.2 545.8 1699.6 537.5 1692.5 530C1685.4 522.5 1678.8 514.6 1672.5 507.5C1666.2 500.4 1659.2 495.4 1655 487.5C1650.8 479.6 1649.2 470.4 1647.5 460C1645.8 449.6 1645.4 436.7 1645 425C1644.6 413.3 1644.2 401.2 1645 390C1645.8 378.8 1647.1 367.5 1650 357.5C1652.9 347.5 1656.7 337.9 1662.5 330C1668.3 322.1 1676.2 314.2 1685 310Z" fill="url(#ga4)"/>
<g clip-path="url(#ca4)">
<path d="M1650 345C1665.4 322.1 1724.2 295 1740 307.5C1755.8 320 1751.7 399.2 1745 420C1738.3 440.8 1716.2 428.3 1700 432.5C1683.8 436.7 1655.8 459.6 1647.5 445C1639.2 430.4 1634.6 367.9 1650 345Z" fill="#882c28" opacity="0.25" filter="url(#b16)"/>
<path d="M1750 303.8C1750.4 310.6 1750 329 1752.5 345C1755 361 1758.8 380.8 1765 400C1771.2 419.2 1781.7 440.8 1790 460C1798.3 479.2 1807.9 498.8 1815 515C1822.1 531.2 1829.6 550.4 1832.5 557.5" fill="none" stroke="#4a1816" stroke-width="3" stroke-linecap="round" opacity="0.8"/>
<path d="M1753 303.8C1753.4 310.6 1753 329 1755.5 345C1758 361 1761.8 380.8 1768 400C1774.2 419.2 1784.7 440.8 1793 460C1801.3 479.2 1811 498.8 1818 515C1825 531.2 1832.2 550.4 1835 557.5" fill="none" stroke="#b04c3c" stroke-width="1.5" stroke-linecap="round" opacity="0.8"/>
<path d="M1912.5 588C1914.4 585.9 1921.2 584.9 1925 585.5C1928.8 586.1 1933.8 589.2 1935 591.5C1936.2 593.8 1935.5 598.4 1932 599.5C1928.5 600.6 1917 600.2 1913.8 598.2C1910.5 596.3 1910.6 590.1 1912.5 588Z" fill="#a08a48" opacity="0.8"/>
</g></g>
<g filter="url(#s1)">
<path d="M2147.5 268.8C2152.5 267.5 2152.9 279.4 2160 282.5C2167.1 285.6 2180.4 284.6 2190 287.5C2199.6 290.4 2210.8 293.8 2217.5 300C2224.2 306.2 2226.7 318.3 2230 325C2233.3 331.7 2231.2 335 2237.5 340C2243.8 345 2257.1 350 2267.5 355C2277.9 360 2290.8 364.6 2300 370C2309.2 375.4 2317.1 380.8 2322.5 387.5C2327.9 394.2 2329.2 401.2 2332.5 410C2335.8 418.8 2339.2 429.2 2342.5 440C2345.8 450.8 2350.6 463.3 2352.5 475C2354.4 486.7 2355 499.6 2353.8 510C2352.5 520.4 2349 530 2345 537.5C2341 545 2335.4 548.8 2330 555C2324.6 561.2 2317.1 567.5 2312.5 575C2307.9 582.5 2306.2 591.7 2302.5 600C2298.8 608.3 2295 617.5 2290 625C2285 632.5 2279.2 643.8 2272.5 645C2265.8 646.2 2258.8 637.1 2250 632.5C2241.2 627.9 2230 622.9 2220 617.5C2210 612.1 2199.2 606.2 2190 600C2180.8 593.8 2173.3 587.5 2165 580C2156.7 572.5 2148.8 562.5 2140 555C2131.2 547.5 2120 542.1 2112.5 535C2105 527.9 2098.5 520.4 2095 512.5C2091.5 504.6 2091.7 495.4 2091.2 487.5C2090.8 479.6 2095.2 471.7 2092.5 465C2089.8 458.3 2079.6 454.2 2075 447.5C2070.4 440.8 2067.7 433.8 2065 425C2062.3 416.2 2058.8 405.4 2058.8 395C2058.8 384.6 2061.5 372.9 2065 362.5C2068.5 352.1 2073.8 341.7 2080 332.5C2086.2 323.3 2094.2 314.6 2102.5 307.5C2110.8 300.4 2122.5 296.5 2130 290C2137.5 283.5 2142.5 270 2147.5 268.8Z" fill="url(#gb1)"/>
<g clip-path="url(#cb1)">
<path d="M2147.5 265C2154.2 264.2 2157.9 274.6 2170 280C2182.1 285.4 2207.9 287.9 2220 297.5C2232.1 307.1 2228.3 325.8 2242.5 337.5C2256.7 349.2 2290.4 358.8 2305 367.5C2319.6 376.2 2323.3 377.9 2330 390C2336.7 402.1 2340.4 425.8 2345 440C2349.6 454.2 2355.8 463.8 2357.5 475C2359.2 486.2 2361.7 502.9 2355 507.5C2348.3 512.1 2330 505.4 2317.5 502.5C2305 499.6 2292.5 494.6 2280 490C2267.5 485.4 2255 480 2242.5 475C2230 470 2215.4 465.4 2205 460C2194.6 454.6 2190.4 446.7 2180 442.5C2169.6 438.3 2155 435 2142.5 435C2130 435 2117.5 440 2105 442.5C2092.5 445 2075.8 452.9 2067.5 450C2059.2 447.1 2057.1 437.5 2055 425C2052.9 412.5 2050.8 391.7 2055 375C2059.2 358.3 2067.5 340 2080 325C2092.5 310 2118.8 295 2130 285C2141.2 275 2140.8 265.8 2147.5 265Z" fill="#943064" opacity="1" filter="url(#b6)"/>
<path d="M2055 362.5C2058.8 350.8 2070.4 340.8 2077.5 340C2084.6 339.2 2092.9 347.5 2097.5 357.5C2102.1 367.5 2104.2 385.4 2105 400C2105.8 414.6 2107.9 437.1 2102.5 445C2097.1 452.9 2080.4 453.3 2072.5 447.5C2064.6 441.7 2057.9 424.2 2055 410C2052.1 395.8 2051.2 374.2 2055 362.5Z" fill="#3c2a4a" opacity="0.75" filter="url(#b10)"/>
<path d="M2080 315C2084.6 307.1 2104.2 295.8 2112.5 297.5C2120.8 299.2 2130 315.4 2130 325C2130 334.6 2120 351.7 2112.5 355C2105 358.3 2090.4 351.7 2085 345C2079.6 338.3 2075.4 322.9 2080 315Z" fill="#6a3a8a" opacity="0.45" filter="url(#b10)"/>
<path d="M2160 355C2164.2 350.8 2189.2 366.7 2205 375C2220.8 383.3 2238.3 394.2 2255 405C2271.7 415.8 2292.5 428.3 2305 440C2317.5 451.7 2334.2 470.8 2330 475C2325.8 479.2 2296.7 471.7 2280 465C2263.3 458.3 2246.7 445.8 2230 435C2213.3 424.2 2191.7 413.3 2180 400C2168.3 386.7 2155.8 359.2 2160 355Z" fill="#5a1c50" opacity="0.35" filter="url(#b10)"/>
<path d="M2200 392.5C2202.9 391.2 2218.8 397.7 2230 403.8C2241.2 409.8 2255 420.4 2267.5 428.8C2280 437.1 2296.7 447.3 2305 453.8C2313.3 460.2 2320.8 466.9 2317.5 467.5C2314.2 468.1 2297.1 462.9 2285 457.5C2272.9 452.1 2257.1 442.7 2245 435C2232.9 427.3 2220 418.3 2212.5 411.2C2205 404.2 2197.1 393.8 2200 392.5Z" fill="#351640" opacity="0.85" filter="url(#b4)"/>
<path d="M2245 380C2250.4 380.8 2268.8 387.9 2280 395C2291.2 402.1 2308.3 417.5 2312.5 422.5C2316.7 427.5 2311.2 427.9 2305 425C2298.8 422.1 2284.6 410.8 2275 405C2265.4 399.2 2252.5 394.2 2247.5 390C2242.5 385.8 2239.6 379.2 2245 380Z" fill="#4a1c50" opacity="0.55" filter="url(#b4)"/>
<path d="M2080 447.5C2087.9 442.3 2129.2 435.8 2142.5 436.2C2155.8 436.7 2157.9 443.5 2160 450C2162.1 456.5 2159.2 469.6 2155 475C2150.8 480.4 2145 483.8 2135 482.5C2125 481.2 2104.2 473.3 2095 467.5C2085.8 461.7 2072.1 452.7 2080 447.5Z" fill="#160d0e" opacity="0.85" filter="url(#b6)"/>
<path d="M2202.5 462.5C2204.2 460.8 2217.9 465.4 2230 470C2242.1 474.6 2270.8 486.7 2275 490C2279.2 493.3 2264.2 491.7 2255 490C2245.8 488.3 2228.8 484.6 2220 480C2211.2 475.4 2200.8 464.2 2202.5 462.5Z" fill="#3a1216" opacity="0.7" filter="url(#b5)"/>
<path d="M2227.5 512.5C2231.7 512.1 2252.5 523.8 2267.5 530C2282.5 536.2 2315.4 547.1 2317.5 550C2319.6 552.9 2292.5 550.4 2280 547.5C2267.5 544.6 2251.2 538.3 2242.5 532.5C2233.8 526.7 2223.3 512.9 2227.5 512.5Z" fill="#4a1618" opacity="0.6" filter="url(#b5)"/>
<path d="M2105 475C2106.7 475 2113.8 489.2 2115 495C2116.2 500.8 2114.2 510 2112.5 510C2110.8 510 2106.2 500.8 2105 495C2103.8 489.2 2103.3 475 2105 475Z" fill="#3a1214" opacity="0.7" filter="url(#b4)"/>
<path d="M2142.5 537.5C2145.8 539.2 2157.9 552.9 2160 557.5C2162.1 562.1 2158.3 566.7 2155 565C2151.7 563.3 2142.1 552.1 2140 547.5C2137.9 542.9 2139.2 535.8 2142.5 537.5Z" fill="#3a1214" opacity="0.6" filter="url(#b4)"/>
<path d="M2140 295C2141.7 304.2 2145 331.7 2150 350C2155 368.3 2161.7 386.2 2170 405C2178.3 423.8 2195 452.9 2200 462.5" fill="none" stroke="#b85088" stroke-width="3" stroke-linecap="round" opacity="0.9"/>
<path d="M2180 425C2183.3 431.2 2192.5 446.7 2200 462.5C2207.5 478.3 2217.5 500.4 2225 520C2232.5 539.6 2241.7 570 2245 580" fill="none" stroke="#c0a058" stroke-width="2.6" stroke-linecap="round" opacity="0.85"/>
<path d="M2267.5 630C2270.4 624.6 2284.6 617.1 2290 612.5C2295.4 607.9 2300.4 600 2300 602.5C2299.6 605 2292.1 620.4 2287.5 627.5C2282.9 634.6 2275.8 644.6 2272.5 645C2269.2 645.4 2264.6 635.4 2267.5 630Z" fill="#b0603a" opacity="0.5" filter="url(#b3)"/>
</g></g>
<g filter="url(#s1)">
<path d="M2580 263.8C2585.4 259.8 2589.2 260.2 2595 261.2C2600.8 262.3 2607.5 267.3 2615 270C2622.5 272.7 2631.7 274.2 2640 277.5C2648.3 280.8 2658.3 285 2665 290C2671.7 295 2674.2 302.1 2680 307.5C2685.8 312.9 2692.5 317.5 2700 322.5C2707.5 327.5 2717.5 331.7 2725 337.5C2732.5 343.3 2739.6 350.4 2745 357.5C2750.4 364.6 2752.9 372.1 2757.5 380C2762.1 387.9 2768.3 396.2 2772.5 405C2776.7 413.8 2779.6 422.9 2782.5 432.5C2785.4 442.1 2788.3 452.9 2790 462.5C2791.7 472.1 2793.3 481.2 2792.5 490C2791.7 498.8 2788.8 507.9 2785 515C2781.2 522.1 2774.6 526.7 2770 532.5C2765.4 538.3 2760.4 543.3 2757.5 550C2754.6 556.7 2754.6 565 2752.5 572.5C2750.4 580 2747.9 587.9 2745 595C2742.1 602.1 2738.3 609.6 2735 615C2731.7 620.4 2730 626.7 2725 627.5C2720 628.3 2713.3 623.8 2705 620C2696.7 616.2 2685 610 2675 605C2665 600 2655 595.8 2645 590C2635 584.2 2624.2 576.7 2615 570C2605.8 563.3 2595.8 556.2 2590 550C2584.2 543.8 2586.2 537.9 2580 532.5C2573.8 527.1 2560.8 522.9 2552.5 517.5C2544.2 512.1 2535.8 507.1 2530 500C2524.2 492.9 2521.2 483.8 2517.5 475C2513.8 466.2 2507.9 454.2 2507.5 447.5C2507.1 440.8 2515 441.2 2515 435C2515 428.8 2509 418.3 2507.5 410C2506 401.7 2505.4 394.2 2506.2 385C2507.1 375.8 2509.4 363.8 2512.5 355C2515.6 346.2 2519.6 340.4 2525 332.5C2530.4 324.6 2538.8 315.4 2545 307.5C2551.2 299.6 2556.7 292.3 2562.5 285C2568.3 277.7 2574.6 267.7 2580 263.8Z" fill="url(#gb2)"/>
<g clip-path="url(#cb2)">
<path d="M2665 290C2671.7 289.6 2686.7 311.2 2700 322.5C2713.3 333.8 2732.9 343.8 2745 357.5C2757.1 371.2 2769.2 396.2 2772.5 405C2775.8 413.8 2774.6 414.2 2765 410C2755.4 405.8 2729.6 389.2 2715 380C2700.4 370.8 2686.7 364.2 2677.5 355C2668.3 345.8 2662.1 335.8 2660 325C2657.9 314.2 2658.3 290.4 2665 290Z" fill="#9a3068" opacity="0.8" filter="url(#b10)"/>
<path d="M2690 555C2699.6 550.8 2742.5 545.4 2752.5 550C2762.5 554.6 2756.2 575 2750 582.5C2743.8 590 2724.2 596.2 2715 595C2705.8 593.8 2699.2 581.7 2695 575C2690.8 568.3 2680.4 559.2 2690 555Z" fill="#9a3068" opacity="0.7" filter="url(#b10)"/>
<path d="M2637.5 366.2C2641.7 366.7 2654.2 374.4 2665 380C2675.8 385.6 2689.2 391.7 2702.5 400C2715.8 408.3 2738.8 424 2745 430C2751.2 436 2747.1 437.5 2740 436.2C2732.9 435 2715 428.5 2702.5 422.5C2690 416.5 2675.4 407.5 2665 400C2654.6 392.5 2644.6 383.1 2640 377.5C2635.4 371.9 2633.3 365.8 2637.5 366.2Z" fill="#2e1230" opacity="0.85" filter="url(#b4)"/>
<path d="M2690 457.5C2696.2 459.2 2715.8 469 2727.5 475C2739.2 481 2755.4 490 2760 493.8C2764.6 497.5 2762.5 499.8 2755 497.5C2747.5 495.2 2725.8 485.4 2715 480C2704.2 474.6 2694.2 468.8 2690 465C2685.8 461.2 2683.8 455.8 2690 457.5Z" fill="#3a1424" opacity="0.8" filter="url(#b4)"/>
<path d="M2550 425C2552.1 422.5 2562.5 427.1 2570 432.5C2577.5 437.9 2586.7 448.8 2595 457.5C2603.3 466.2 2617.5 480.4 2620 485C2622.5 489.6 2616.7 488.8 2610 485C2603.3 481.2 2588.8 468.8 2580 462.5C2571.2 456.2 2562.5 453.8 2557.5 447.5C2552.5 441.2 2547.9 427.5 2550 425Z" fill="#3a1220" opacity="0.8" filter="url(#b4)"/>
<path d="M2665 487.5C2671.2 488.8 2690 495.8 2702.5 502.5C2715 509.2 2734.6 522.7 2740 527.5C2745.4 532.3 2741.7 533.8 2735 531.2C2728.3 528.8 2711.7 518.5 2700 512.5C2688.3 506.5 2670.8 499.2 2665 495C2659.2 490.8 2658.8 486.2 2665 487.5Z" fill="#4a1828" opacity="0.6" filter="url(#b5)"/>
<path d="M2560 522.5C2564.6 523.8 2578.3 530.4 2585 535C2591.7 539.6 2600.8 548.8 2600 550C2599.2 551.2 2587.1 546.2 2580 542.5C2572.9 538.8 2560.8 530.8 2557.5 527.5C2554.2 524.2 2555.4 521.2 2560 522.5Z" fill="#4a1820" opacity="0.6" filter="url(#b5)"/>
<path d="M2512.5 380C2518.3 377.1 2543.3 374.2 2550 375C2556.7 375.8 2558.3 382.1 2552.5 385C2546.7 387.9 2521.7 393.3 2515 392.5C2508.3 391.7 2506.7 382.9 2512.5 380Z" fill="#4a1820" opacity="0.5" filter="url(#b5)"/>
<path d="M2635 440C2635.8 438.8 2655.8 445.8 2665 450C2674.2 454.2 2690.8 463.8 2690 465C2689.2 466.2 2669.2 461.7 2660 457.5C2650.8 453.3 2634.2 441.2 2635 440Z" fill="#4a1828" opacity="0.7" filter="url(#b4)"/>
<path d="M2692.5 537.5C2692.5 538.3 2717.5 545.4 2727.5 547.5C2737.5 549.6 2752.5 550.8 2752.5 550C2752.5 549.2 2737.5 544.6 2727.5 542.5C2717.5 540.4 2692.5 536.7 2692.5 537.5Z" fill="#3a1430" opacity="0.6" filter="url(#b4)"/>
<path d="M2512.5 375C2517.5 366.7 2538.8 365 2545 370C2551.2 375 2555 396.7 2550 405C2545 413.3 2521.2 425 2515 420C2508.8 415 2507.5 383.3 2512.5 375Z" fill="#6a2028" opacity="0.5" filter="url(#b8)"/>
<path d="M2575 270C2576.7 277.1 2580.8 297.1 2585 312.5C2589.2 327.9 2597.5 354.2 2600 362.5" fill="none" stroke="#c06070" stroke-width="3" stroke-linecap="round" opacity="0.9"/>
<path d="M2600 362.5C2605 372.1 2620 399.2 2630 420C2640 440.8 2650 465 2660 487.5C2670 510 2685 543.8 2690 555" fill="none" stroke="#c8a860" stroke-width="2.6" stroke-linecap="round" opacity="0.85"/>
<path d="M2595 367.5C2592.6 370.4 2585.5 379.2 2580.8 385C2576 390.8 2571.5 396.2 2566.8 402.5C2562 408.8 2554.9 419.2 2552.5 422.5" fill="none" stroke="#c8a850" stroke-width="3" stroke-linecap="round" opacity="0.85"/>
<path d="M2715 605C2718.5 596.7 2742.9 575.8 2746.2 577.5C2749.6 579.2 2738.5 606.7 2735 615C2731.5 623.3 2728.3 629.2 2725 627.5C2721.7 625.8 2711.5 613.3 2715 605Z" fill="#b8683c" opacity="0.5" filter="url(#b5)"/>
</g></g>
<g filter="url(#s1)">
<path d="M2967.5 237.5C2971.2 236 2972.9 242.9 2980 243.8C2987.1 244.6 2999.2 241.2 3010 242.5C3020.8 243.8 3033.3 250.6 3045 251.2C3056.7 251.9 3068.3 246.7 3080 246.2C3091.7 245.8 3104.6 246.9 3115 248.8C3125.4 250.6 3135.4 253.1 3142.5 257.5C3149.6 261.9 3152.5 268.3 3157.5 275C3162.5 281.7 3168.3 290 3172.5 297.5C3176.7 305 3178.3 312.1 3182.5 320C3186.7 327.9 3193.3 335.8 3197.5 345C3201.7 354.2 3205 364.6 3207.5 375C3210 385.4 3211.9 396.7 3212.5 407.5C3213.1 418.3 3212.5 429.6 3211.2 440C3210 450.4 3206.5 460.8 3205 470C3203.5 479.2 3203.3 485.8 3202.5 495C3201.7 504.2 3200.8 515 3200 525C3199.2 535 3198.3 545.4 3197.5 555C3196.7 564.6 3196.2 574.2 3195 582.5C3193.8 590.8 3193.3 599.6 3190 605C3186.7 610.4 3180 614.2 3175 615C3170 615.8 3164.2 614.2 3160 610C3155.8 605.8 3153.3 597.5 3150 590C3146.7 582.5 3144.2 572.9 3140 565C3135.8 557.1 3130.8 549.2 3125 542.5C3119.2 535.8 3112.5 530.4 3105 525C3097.5 519.6 3088.3 515 3080 510C3071.7 505 3063.3 500 3055 495C3046.7 490 3038.3 484.6 3030 480C3021.7 475.4 3013.3 471.2 3005 467.5C2996.7 463.8 2988.3 460.8 2980 457.5C2971.7 454.2 2962.5 451.7 2955 447.5C2947.5 443.3 2940.4 438.8 2935 432.5C2929.6 426.2 2925.8 418.8 2922.5 410C2919.2 401.2 2916.5 390 2915 380C2913.5 370 2913.3 360 2913.8 350C2914.2 340 2915.2 329.6 2917.5 320C2919.8 310.4 2922.9 300.8 2927.5 292.5C2932.1 284.2 2940 276.7 2945 270C2950 263.3 2953.8 257.9 2957.5 252.5C2961.2 247.1 2963.8 239 2967.5 237.5Z" fill="url(#gb3)"/>
<g clip-path="url(#cb3)">
<path d="M2955 405C2964.6 399.6 2982.1 398.3 2992.5 400C3002.9 401.7 3013.8 407.5 3017.5 415C3021.2 422.5 3019.2 437.9 3015 445C3010.8 452.1 3002.5 456.7 2992.5 457.5C2982.5 458.3 2964.6 454.2 2955 450C2945.4 445.8 2935 440 2935 432.5C2935 425 2945.4 410.4 2955 405Z" fill="#982e70" opacity="0.9" filter="url(#b12)"/>
<path d="M2930 427.5C2931.7 427.1 2947.5 440.4 2955 445C2962.5 449.6 2976.7 454.6 2975 455C2973.3 455.4 2952.5 452.1 2945 447.5C2937.5 442.9 2928.3 427.9 2930 427.5Z" fill="#4a3478" opacity="0.6" filter="url(#b5)"/>
<path d="M3080 247.5C3083.8 246 3104.6 247.1 3115 248.8C3125.4 250.4 3140 255.2 3142.5 257.5C3145 259.8 3138.3 262.5 3130 262.5C3121.7 262.5 3100.8 260 3092.5 257.5C3084.2 255 3076.2 249 3080 247.5Z" fill="#963064" opacity="0.7" filter="url(#b6)"/>
<path d="M3040 287.5C3040 285.8 3067.1 293.3 3080 297.5C3092.9 301.7 3105.8 307.9 3117.5 312.5C3129.2 317.1 3149.6 323.8 3150 325C3150.4 326.2 3131.7 322.9 3120 320C3108.3 317.1 3093.3 312.9 3080 307.5C3066.7 302.1 3040 289.2 3040 287.5Z" fill="#4a1618" opacity="0.6" filter="url(#b5)"/>
<path d="M2972.5 360C2974.6 359.6 2980.4 374.2 2985 380C2989.6 385.8 2999.6 391.7 3000 395C3000.4 398.3 2992.1 402.1 2987.5 400C2982.9 397.9 2975 389.2 2972.5 382.5C2970 375.8 2970.4 360.4 2972.5 360Z" fill="#2a1014" opacity="0.7" filter="url(#b5)"/>
<path d="M2917.5 320C2921.7 303.3 2938.8 290.8 2945 295C2951.2 299.2 2955.4 328.3 2955 345C2954.6 361.7 2948.3 386.7 2942.5 395C2936.7 403.3 2924.2 407.5 2920 395C2915.8 382.5 2913.3 336.7 2917.5 320Z" fill="#6a2024" opacity="0.5" filter="url(#b8)"/>
<path d="M2970 245C2974.2 253.3 2982.9 278.3 2995 295C3007.1 311.7 3026.2 325.8 3042.5 345C3058.8 364.2 3077.5 389.2 3092.5 410C3107.5 430.8 3125.8 460 3132.5 470" fill="none" stroke="#c07848" stroke-width="2.5" stroke-linecap="round" opacity="0.85"/>
</g></g>
<g filter="url(#s1)">
<path d="M3372.5 240C3380.8 236.5 3390.4 235.4 3400 233.8C3409.6 232.1 3420.4 229.8 3430 230C3439.6 230.2 3450 231.2 3457.5 235C3465 238.8 3467.9 248.1 3475 252.5C3482.1 256.9 3490.8 259.6 3500 261.2C3509.2 262.9 3520 261.5 3530 262.5C3540 263.5 3551.7 265.4 3560 267.5C3568.3 269.6 3575 270.4 3580 275C3585 279.6 3586.7 286.7 3590 295C3593.3 303.3 3598.3 316.7 3600 325C3601.7 333.3 3597.9 337.5 3600 345C3602.1 352.5 3609.2 360.8 3612.5 370C3615.8 379.2 3618.8 390 3620 400C3621.2 410 3621.7 420.8 3620 430C3618.3 439.2 3613.3 447.9 3610 455C3606.7 462.1 3602.9 465.8 3600 472.5C3597.1 479.2 3594.6 486.2 3592.5 495C3590.4 503.8 3589.6 515 3587.5 525C3585.4 535 3582.1 545 3580 555C3577.9 565 3578.3 578.8 3575 585C3571.7 591.2 3565.4 591.9 3560 592.5C3554.6 593.1 3547.1 593.3 3542.5 588.8C3537.9 584.2 3536.7 572.7 3532.5 565C3528.3 557.3 3523.8 549.2 3517.5 542.5C3511.2 535.8 3502.9 530.4 3495 525C3487.1 519.6 3478.3 515.8 3470 510C3461.7 504.2 3453.3 496.2 3445 490C3436.7 483.8 3429.2 478.3 3420 472.5C3410.8 466.7 3399.6 460.8 3390 455C3380.4 449.2 3370.4 443.8 3362.5 437.5C3354.6 431.2 3349.2 425 3342.5 417.5C3335.8 410 3327.5 400.8 3322.5 392.5C3317.5 384.2 3314.8 376.2 3312.5 367.5C3310.2 358.8 3307.9 348.8 3308.8 340C3309.6 331.2 3314 322.9 3317.5 315C3321 307.1 3327.9 299.6 3330 292.5C3332.1 285.4 3326.7 278.8 3330 272.5C3333.3 266.2 3342.9 260.4 3350 255C3357.1 249.6 3364.2 243.5 3372.5 240Z" fill="url(#gb4)"/>
<g clip-path="url(#cb4)">
<path d="M3440 307.5C3440 304.2 3460.8 306.7 3475 310C3489.2 313.3 3508.3 319.2 3525 327.5C3541.7 335.8 3562.5 348.8 3575 360C3587.5 371.2 3600 391.7 3600 395C3600 398.3 3587.5 387.5 3575 380C3562.5 372.5 3541.7 358.3 3525 350C3508.3 341.7 3489.2 337.1 3475 330C3460.8 322.9 3440 310.8 3440 307.5Z" fill="#6a2020" opacity="0.6" filter="url(#b6)"/>
<path d="M3490 375C3490 372.1 3510.8 376.7 3525 382.5C3539.2 388.3 3562.5 399.6 3575 410C3587.5 420.4 3600 442.5 3600 445C3600 447.5 3587.5 432.5 3575 425C3562.5 417.5 3539.2 408.3 3525 400C3510.8 391.7 3490 377.9 3490 375Z" fill="#6a2020" opacity="0.6" filter="url(#b6)"/>
<path d="M3390 392.5C3391.7 391.2 3405 395 3410 397.5C3415 400 3421.7 406.2 3420 407.5C3418.3 408.8 3405 407.5 3400 405C3395 402.5 3388.3 393.8 3390 392.5Z" fill="#4a1616" opacity="0.8" filter="url(#b4)"/>
<path d="M3370 245C3379.2 254.6 3405.4 280.8 3425 302.5C3444.6 324.2 3470.8 352.1 3487.5 375C3504.2 397.9 3515.8 421.7 3525 440C3534.2 458.3 3539.6 477.5 3542.5 485" fill="none" stroke="#b8503c" stroke-width="2.5" stroke-linecap="round" opacity="0.9"/>
</g></g>
<g filter="url(#s1)">
<path d="M590 962.5C595.4 960.2 606.2 959 615 958.8C623.8 958.5 635 958.5 642.5 961.2C650 964 652.9 970.6 660 975C667.1 979.4 675.8 982.9 685 987.5C694.2 992.1 706.7 997.1 715 1002.5C723.3 1007.9 729.6 1013.3 735 1020C740.4 1026.7 745 1034.2 747.5 1042.5C750 1050.8 750.8 1060.4 750 1070C749.2 1079.6 745.4 1090 742.5 1100C739.6 1110 736.2 1120.4 732.5 1130C728.8 1139.6 724.6 1148.8 720 1157.5C715.4 1166.2 711.7 1175 705 1182.5C698.3 1190 689.2 1197.1 680 1202.5C670.8 1207.9 660.4 1212.3 650 1215C639.6 1217.7 627.5 1215.8 617.5 1218.8C607.5 1221.7 599.6 1228.1 590 1232.5C580.4 1236.9 570 1241.7 560 1245C550 1248.3 539.6 1250 530 1252.5C520.4 1255 510.8 1257.1 502.5 1260C494.2 1262.9 486.7 1265.4 480 1270C473.3 1274.6 467.9 1281.7 462.5 1287.5C457.1 1293.3 451.7 1301.2 447.5 1305C443.3 1308.8 439.8 1310.8 437.5 1310C435.2 1309.2 432.5 1305.8 433.8 1300C435 1294.2 441 1283.3 445 1275C449 1266.7 453.5 1258.3 457.5 1250C461.5 1241.7 465.8 1233.3 468.8 1225C471.7 1216.7 473.1 1209.2 475 1200C476.9 1190.8 477.5 1180 480 1170C482.5 1160 485.8 1150 490 1140C494.2 1130 500.4 1119.6 505 1110C509.6 1100.4 512.5 1091.2 517.5 1082.5C522.5 1073.8 528.8 1065.8 535 1057.5C541.2 1049.2 550 1040.4 555 1032.5C560 1024.6 561.2 1017.1 565 1010C568.8 1002.9 574.6 996.2 577.5 990C580.4 983.8 580.4 977.1 582.5 972.5C584.6 967.9 584.6 964.8 590 962.5Z" fill="url(#gc1)"/>
<g clip-path="url(#cc1)">
<path d="M730 1017.5C732.5 1017.5 745 1033.8 747.5 1040C750 1046.2 747.5 1055 745 1055C742.5 1055 735 1046.2 732.5 1040C730 1033.8 727.5 1017.5 730 1017.5Z" fill="#7a3a9a" opacity="0.7" filter="url(#b5)"/>
<path d="M605 1125C610 1125 626.7 1150 630 1165C633.3 1180 628.8 1209.2 625 1215C621.2 1220.8 611.7 1208.3 607.5 1200C603.3 1191.7 600.4 1177.5 600 1165C599.6 1152.5 600 1125 605 1125Z" fill="#521a1e" opacity="0.5" filter="url(#b12)"/>
<path d="M642.5 1090C646.7 1091.7 662.9 1123.3 670 1140C677.1 1156.7 685.8 1184.2 685 1190C684.2 1195.8 671.7 1185 665 1175C658.3 1165 648.8 1144.2 645 1130C641.2 1115.8 638.3 1088.3 642.5 1090Z" fill="#6a2224" opacity="0.4" filter="url(#b12)"/>
<path d="M660 987.5C667.1 986.2 700.8 997.1 715 1007.5C729.2 1017.9 745.8 1043.8 745 1050C744.2 1056.2 722.1 1050.8 710 1045C697.9 1039.2 680.8 1024.6 672.5 1015C664.2 1005.4 652.9 988.8 660 987.5Z" fill="#8e2e44" opacity="0.5" filter="url(#b10)"/>
<path d="M635 965C635.4 972.9 638.3 997.5 637.5 1012.5C636.7 1027.5 635.4 1040.4 630 1055C624.6 1069.6 614.6 1085 605 1100C595.4 1115 585 1129.2 572.5 1145C560 1160.8 544.6 1177.5 530 1195C515.4 1212.5 492.5 1240.8 485 1250" fill="none" stroke="#a83858" stroke-width="2" stroke-linecap="round" opacity="0.7"/>
</g></g>
<g filter="url(#s1)">
<path d="M1047.5 978.8C1054.2 976.9 1056.2 975 1060 976.2C1063.8 977.5 1064.2 983.1 1070 986.2C1075.8 989.4 1086.7 991.5 1095 995C1103.3 998.5 1112.1 1002.5 1120 1007.5C1127.9 1012.5 1136.2 1018.3 1142.5 1025C1148.8 1031.7 1153.8 1039.6 1157.5 1047.5C1161.2 1055.4 1163.5 1063.8 1165 1072.5C1166.5 1081.2 1167.1 1090.4 1166.2 1100C1165.4 1109.6 1162.7 1120 1160 1130C1157.3 1140 1153.8 1150.4 1150 1160C1146.2 1169.6 1141.2 1178.8 1137.5 1187.5C1133.8 1196.2 1130.4 1204.2 1127.5 1212.5C1124.6 1220.8 1123.3 1230 1120 1237.5C1116.7 1245 1112.5 1251.2 1107.5 1257.5C1102.5 1263.8 1097.1 1270.4 1090 1275C1082.9 1279.6 1073.8 1282.9 1065 1285C1056.2 1287.1 1045.8 1285.8 1037.5 1287.5C1029.2 1289.2 1022.9 1291.7 1015 1295C1007.1 1298.3 999.2 1303.8 990 1307.5C980.8 1311.2 970.8 1314.6 960 1317.5C949.2 1320.4 936.7 1322.7 925 1325C913.3 1327.3 897.9 1330.8 890 1331.2C882.1 1331.7 880.4 1332.7 877.5 1327.5C874.6 1322.3 874 1309.6 872.5 1300C871 1290.4 869.6 1279.6 868.8 1270C867.9 1260.4 866.7 1251.7 867.5 1242.5C868.3 1233.3 871.7 1224.6 873.8 1215C875.8 1205.4 876.9 1194.2 880 1185C883.1 1175.8 887.5 1168.3 892.5 1160C897.5 1151.7 904.6 1142.5 910 1135C915.4 1127.5 921.2 1122.5 925 1115C928.8 1107.5 929.2 1098.3 932.5 1090C935.8 1081.7 940.4 1073.3 945 1065C949.6 1056.7 954.2 1048.3 960 1040C965.8 1031.7 975 1022.5 980 1015C985 1007.5 983.3 999.6 990 995C996.7 990.4 1010.4 990.2 1020 987.5C1029.6 984.8 1040.8 980.6 1047.5 978.8Z" fill="url(#gc2)"/>
<g clip-path="url(#cc2)">
<path d="M1045 1200C1061.7 1191.7 1107.5 1191.7 1120 1200C1132.5 1208.3 1125 1237.5 1120 1250C1115 1262.5 1102.5 1269.2 1090 1275C1077.5 1280.8 1056.7 1289.2 1045 1285C1033.3 1280.8 1020 1264.2 1020 1250C1020 1235.8 1028.3 1208.3 1045 1200Z" fill="#8c2d2a" opacity="0.7" filter="url(#b12)"/>
<path d="M1032.5 1265.5C1035.8 1262.4 1048.1 1256.1 1057.5 1253.8C1066.9 1251.4 1084.8 1249.8 1088.8 1251.2C1092.7 1252.7 1086.5 1259.2 1081.2 1262.5C1076 1265.8 1064.8 1269.6 1057.5 1271.2C1050.2 1272.9 1041.7 1273.5 1037.5 1272.5C1033.3 1271.5 1029.2 1268.6 1032.5 1265.5Z" fill="#b08a3c" opacity="0.4" filter="url(#b5)"/>
<path d="M942.5 1097.5C945.4 1093.3 958.8 1087.9 960 1090C961.2 1092.1 952.9 1105.8 950 1110C947.1 1114.2 943.8 1117.1 942.5 1115C941.2 1112.9 939.6 1101.7 942.5 1097.5Z" fill="#4a1830" opacity="0.8" filter="url(#b4)"/>
<path d="M960 1130C965 1127.1 988.3 1120.8 995 1120C1001.7 1119.2 1005 1122.1 1000 1125C995 1127.9 971.7 1136.7 965 1137.5C958.3 1138.3 955 1132.9 960 1130Z" fill="#5a1c38" opacity="0.6" filter="url(#b4)"/>
<path d="M1047.5 980C1047.9 991.7 1050.4 1030 1050 1050C1049.6 1070 1045.8 1091.7 1045 1100" fill="none" stroke="#6a2030" stroke-width="4" stroke-linecap="round" opacity="0.6" filter="url(#b3)"/>
</g></g>
<g filter="url(#s1)">
<path d="M1362.5 1022.5C1363.1 1019.2 1367.9 1015.2 1375 1012.5C1382.1 1009.8 1395 1007.7 1405 1006.2C1415 1004.8 1425 1004.6 1435 1003.8C1445 1002.9 1455.8 1000.2 1465 1001.2C1474.2 1002.3 1482.1 1006 1490 1010C1497.9 1014 1505.8 1019.6 1512.5 1025C1519.2 1030.4 1525 1035.8 1530 1042.5C1535 1049.2 1539.6 1057.1 1542.5 1065C1545.4 1072.9 1546.7 1081.7 1547.5 1090C1548.3 1098.3 1548.3 1106.7 1547.5 1115C1546.7 1123.3 1544.6 1131.7 1542.5 1140C1540.4 1148.3 1537.9 1156.7 1535 1165C1532.1 1173.3 1527.5 1182.1 1525 1190C1522.5 1197.9 1522.5 1204.6 1520 1212.5C1517.5 1220.4 1514.2 1229.6 1510 1237.5C1505.8 1245.4 1500.8 1254.2 1495 1260C1489.2 1265.8 1482.5 1270.4 1475 1272.5C1467.5 1274.6 1457.5 1272.1 1450 1272.5C1442.5 1272.9 1437.5 1271.7 1430 1275C1422.5 1278.3 1414.2 1286.7 1405 1292.5C1395.8 1298.3 1385.4 1305 1375 1310C1364.6 1315 1352.9 1318.3 1342.5 1322.5C1332.1 1326.7 1321.7 1330.4 1312.5 1335C1303.3 1339.6 1292.9 1348.8 1287.5 1350C1282.1 1351.2 1279.6 1347.5 1280 1342.5C1280.4 1337.5 1286.2 1327.5 1290 1320C1293.8 1312.5 1299.2 1305 1302.5 1297.5C1305.8 1290 1307.9 1282.9 1310 1275C1312.1 1267.1 1313.3 1259.2 1315 1250C1316.7 1240.8 1317.5 1229.6 1320 1220C1322.5 1210.4 1326.2 1200.8 1330 1192.5C1333.8 1184.2 1337.9 1177.5 1342.5 1170C1347.1 1162.5 1352.5 1154.6 1357.5 1147.5C1362.5 1140.4 1370.4 1134.6 1372.5 1127.5C1374.6 1120.4 1370.4 1112.1 1370 1105C1369.6 1097.9 1369.6 1093.3 1370 1085C1370.4 1076.7 1372.3 1063.8 1372.5 1055C1372.7 1046.2 1372.9 1037.9 1371.2 1032.5C1369.6 1027.1 1361.9 1025.8 1362.5 1022.5Z" fill="url(#gc3)"/>
<g clip-path="url(#cc3)">
<path d="M1355 1015C1361.7 1002.5 1386.2 1002.9 1405 1000C1423.8 997.1 1448.8 993.3 1467.5 997.5C1486.2 1001.7 1504.6 1013.8 1517.5 1025C1530.4 1036.2 1539.2 1052.5 1545 1065C1550.8 1077.5 1552.1 1089.2 1552.5 1100C1552.9 1110.8 1553.3 1128.3 1547.5 1130C1541.7 1131.7 1528.8 1115.4 1517.5 1110C1506.2 1104.6 1492.5 1100 1480 1097.5C1467.5 1095 1455 1093.8 1442.5 1095C1430 1096.2 1417.1 1100.8 1405 1105C1392.9 1109.2 1376.7 1125 1370 1120C1363.3 1115 1367.5 1092.5 1365 1075C1362.5 1057.5 1348.3 1027.5 1355 1015Z" fill="#96325c" opacity="1" filter="url(#b6)"/>
<path d="M1462.5 998.8C1465.2 997.3 1481.7 1003.5 1490 1007.5C1498.3 1011.5 1505.6 1016.7 1512.5 1022.5C1519.4 1028.3 1528.5 1035.8 1531.2 1042.5C1534 1049.2 1533.1 1056.7 1528.8 1062.5C1524.4 1068.3 1513.1 1073.3 1505 1077.5C1496.9 1081.7 1484.8 1087.9 1480 1087.5C1475.2 1087.1 1475.2 1080.4 1476.2 1075C1477.3 1069.6 1484.2 1062.1 1486.2 1055C1488.3 1047.9 1490.8 1039 1488.8 1032.5C1486.7 1026 1478.1 1021.9 1473.8 1016.2C1469.4 1010.6 1459.8 1000.2 1462.5 998.8Z" fill="#2e2036" opacity="0.95" filter="url(#b8)"/>
</g></g>
<g filter="url(#s1)">
<path d="M1747.5 993.8C1750.4 992.5 1758.8 996.2 1770 997.5C1781.2 998.8 1803.3 1002.3 1815 1001.2C1826.7 1000.2 1832.5 993.5 1840 991.2C1847.5 989 1853.3 986 1860 987.5C1866.7 989 1872.5 995.8 1880 1000C1887.5 1004.2 1897.5 1008.3 1905 1012.5C1912.5 1016.7 1919.6 1019.6 1925 1025C1930.4 1030.4 1934.6 1037.5 1937.5 1045C1940.4 1052.5 1942.1 1061.7 1942.5 1070C1942.9 1078.3 1941.7 1086.7 1940 1095C1938.3 1103.3 1935.4 1111.7 1932.5 1120C1929.6 1128.3 1925.8 1136.7 1922.5 1145C1919.2 1153.3 1914.6 1162.5 1912.5 1170C1910.4 1177.5 1912.1 1182.9 1910 1190C1907.9 1197.1 1904.2 1205.8 1900 1212.5C1895.8 1219.2 1890.8 1224.6 1885 1230C1879.2 1235.4 1872.5 1241.2 1865 1245C1857.5 1248.8 1847.5 1250.6 1840 1252.5C1832.5 1254.4 1825.8 1253.8 1820 1256.2C1814.2 1258.8 1812.5 1262.3 1805 1267.5C1797.5 1272.7 1785 1281.2 1775 1287.5C1765 1293.8 1755 1299.2 1745 1305C1735 1310.8 1723.3 1318.1 1715 1322.5C1706.7 1326.9 1699.2 1333.3 1695 1331.2C1690.8 1329.2 1690 1318.1 1690 1310C1690 1301.9 1694.4 1291.7 1695 1282.5C1695.6 1273.3 1694.2 1264.6 1693.8 1255C1693.3 1245.4 1692.3 1235 1692.5 1225C1692.7 1215 1693.3 1204.6 1695 1195C1696.7 1185.4 1699.2 1176.7 1702.5 1167.5C1705.8 1158.3 1710.8 1148.8 1715 1140C1719.2 1131.2 1724.6 1122.5 1727.5 1115C1730.4 1107.5 1732.1 1101.2 1732.5 1095C1732.9 1088.8 1729.2 1082.1 1730 1077.5C1730.8 1072.9 1736.7 1072.9 1737.5 1067.5C1738.3 1062.1 1734.2 1052.5 1735 1045C1735.8 1037.5 1739.6 1029.2 1742.5 1022.5C1745.4 1015.8 1751.7 1009.8 1752.5 1005C1753.3 1000.2 1744.6 995 1747.5 993.8Z" fill="url(#gc4)"/>
<g clip-path="url(#cc4)">
<path d="M1725 1210C1730 1204.6 1753.3 1190 1760 1187.5C1766.7 1185 1770 1189.6 1765 1195C1760 1200.4 1736.7 1217.5 1730 1220C1723.3 1222.5 1720 1215.4 1725 1210Z" fill="#6a2220" opacity="0.6" filter="url(#b5)"/>
<path d="M1810 1212.5C1810 1215.8 1816.7 1238.8 1820 1245C1823.3 1251.2 1830 1253.3 1830 1250C1830 1246.7 1823.3 1231.2 1820 1225C1816.7 1218.8 1810 1209.2 1810 1212.5Z" fill="#6a2220" opacity="0.6" filter="url(#b5)"/>
</g></g>
<g filter="url(#s1)">
<path d="M2142.5 925C2150 921.9 2160.4 921.5 2170 921.2C2179.6 921 2192.5 922.9 2200 923.8C2207.5 924.6 2209.2 926 2215 926.2C2220.8 926.5 2228.3 923.8 2235 925C2241.7 926.2 2248.3 929.6 2255 933.8C2261.7 937.9 2269.2 944 2275 950C2280.8 956 2286.7 962.5 2290 970C2293.3 977.5 2294.2 986.7 2295 995C2295.8 1003.3 2294.2 1012.5 2295 1020C2295.8 1027.5 2298.3 1032.9 2300 1040C2301.7 1047.1 2302.9 1055 2305 1062.5C2307.1 1070 2309.2 1077.9 2312.5 1085C2315.8 1092.1 2321.5 1098.3 2325 1105C2328.5 1111.7 2332.1 1117.5 2333.8 1125C2335.4 1132.5 2335 1141.7 2335 1150C2335 1158.3 2335 1166.7 2333.8 1175C2332.5 1183.3 2330.2 1193.8 2327.5 1200C2324.8 1206.2 2320 1207.9 2317.5 1212.5C2315 1217.1 2315.4 1222.5 2312.5 1227.5C2309.6 1232.5 2305.4 1237.5 2300 1242.5C2294.6 1247.5 2287.5 1252.1 2280 1257.5C2272.5 1262.9 2264.2 1270.8 2255 1275C2245.8 1279.2 2235 1282.5 2225 1282.5C2215 1282.5 2204.2 1277.9 2195 1275C2185.8 1272.1 2177.9 1269.2 2170 1265C2162.1 1260.8 2153.8 1255.4 2147.5 1250C2141.2 1244.6 2136 1238.8 2132.5 1232.5C2129 1226.2 2126.7 1218.8 2126.2 1212.5C2125.8 1206.2 2126.9 1199.6 2130 1195C2133.1 1190.4 2143.8 1189.2 2145 1185C2146.2 1180.8 2139.8 1175.8 2137.5 1170C2135.2 1164.2 2131.9 1156.7 2131.2 1150C2130.6 1143.3 2132.3 1135.8 2133.8 1130C2135.2 1124.2 2140.2 1120.8 2140 1115C2139.8 1109.2 2136.2 1101.7 2132.5 1095C2128.8 1088.3 2121.7 1082.5 2117.5 1075C2113.3 1067.5 2109.8 1059.2 2107.5 1050C2105.2 1040.8 2104 1030 2103.8 1020C2103.5 1010 2104.8 1000 2106.2 990C2107.7 980 2109.4 968.3 2112.5 960C2115.6 951.7 2120 945.8 2125 940C2130 934.2 2135 928.1 2142.5 925Z" fill="url(#gd1)"/>
<g clip-path="url(#cd1)">
<path d="M2103.8 995C2108.3 984.2 2124.8 965.8 2130 975C2135.2 984.2 2131.7 1030 2135 1050C2138.3 1070 2149.6 1085.8 2150 1095C2150.4 1104.2 2143.3 1108.3 2137.5 1105C2131.7 1101.7 2120.8 1085.8 2115 1075C2109.2 1064.2 2104.4 1053.3 2102.5 1040C2100.6 1026.7 2099.2 1005.8 2103.8 995Z" fill="#6e306a" opacity="0.5" filter="url(#b10)"/>
<path d="M2255 1200C2260 1195.4 2271.7 1193.3 2280 1195C2288.3 1196.7 2305 1205 2305 1210C2305 1215 2289.2 1222.9 2280 1225C2270.8 1227.1 2254.2 1226.7 2250 1222.5C2245.8 1218.3 2250 1204.6 2255 1200Z" fill="#4a1616" opacity="0.6" filter="url(#b6)"/>
<path d="M2140 1182.5C2144.2 1179.6 2166.7 1172.1 2170 1172.5C2173.3 1172.9 2164.2 1182.1 2160 1185C2155.8 1187.9 2148.3 1190.4 2145 1190C2141.7 1189.6 2135.8 1185.4 2140 1182.5Z" fill="#1a1010" opacity="0.8" filter="url(#b3)"/>
<path d="M2160 1105C2163.3 1100 2184.2 1096.7 2190 1100C2195.8 1103.3 2198.3 1120 2195 1125C2191.7 1130 2175.8 1133.3 2170 1130C2164.2 1126.7 2156.7 1110 2160 1105Z" fill="#963064" opacity="0.5" filter="url(#b8)"/>
<path d="M2217.5 937.5C2219.2 947.9 2223.3 979.2 2227.5 1000C2231.7 1020.8 2238.3 1045 2242.5 1062.5C2246.7 1080 2250.8 1097.9 2252.5 1105" fill="none" stroke="#c86a50" stroke-width="2.5" stroke-linecap="round" opacity="0.8"/>
<path d="M2290 1090C2292.5 1092.5 2302.5 1102.5 2305 1105" fill="none" stroke="#c8a050" stroke-width="3" stroke-linecap="round" opacity="0.8"/>
</g></g>
<g filter="url(#s1)">
<path d="M2585 922.5C2593.8 919.4 2605 919.4 2615 918.8C2625 918.1 2636.2 918.5 2645 918.8C2653.8 919 2660.8 917.3 2667.5 920C2674.2 922.7 2679.6 928.8 2685 935C2690.4 941.2 2695.4 950 2700 957.5C2704.6 965 2709.6 972.1 2712.5 980C2715.4 987.9 2717.5 997.1 2717.5 1005C2717.5 1012.9 2714.6 1020 2712.5 1027.5C2710.4 1035 2705.4 1042.9 2705 1050C2704.6 1057.1 2707.9 1062.9 2710 1070C2712.1 1077.1 2715 1085 2717.5 1092.5C2720 1100 2723.3 1107.5 2725 1115C2726.7 1122.5 2727.9 1130 2727.5 1137.5C2727.1 1145 2725 1152.5 2722.5 1160C2720 1167.5 2715.4 1175 2712.5 1182.5C2709.6 1190 2708.8 1197.5 2705 1205C2701.2 1212.5 2695.8 1220.8 2690 1227.5C2684.2 1234.2 2677.5 1239.6 2670 1245C2662.5 1250.4 2654.2 1255.8 2645 1260C2635.8 1264.2 2625 1267.5 2615 1270C2605 1272.5 2593.8 1273.8 2585 1275C2576.2 1276.2 2567.9 1279.6 2562.5 1277.5C2557.1 1275.4 2557.5 1267.9 2552.5 1262.5C2547.5 1257.1 2538.8 1251.2 2532.5 1245C2526.2 1238.8 2519.4 1232.5 2515 1225C2510.6 1217.5 2506.7 1207.5 2506.2 1200C2505.8 1192.5 2509.8 1185.8 2512.5 1180C2515.2 1174.2 2521.7 1170.8 2522.5 1165C2523.3 1159.2 2517.5 1151.7 2517.5 1145C2517.5 1138.3 2520 1131.2 2522.5 1125C2525 1118.8 2530.4 1114.2 2532.5 1107.5C2534.6 1100.8 2535.4 1092.5 2535 1085C2534.6 1077.5 2531.9 1070 2530 1062.5C2528.1 1055 2525.2 1047.9 2523.8 1040C2522.3 1032.1 2520.8 1024.2 2521.2 1015C2521.7 1005.8 2522.3 995 2526.2 985C2530.2 975 2539 962.9 2545 955C2551 947.1 2555.8 942.9 2562.5 937.5C2569.2 932.1 2576.2 925.6 2585 922.5Z" fill="url(#gd2)"/>
<g clip-path="url(#cd2)">
<path d="M2577.5 1100C2587.9 1094.6 2617.1 1096.7 2627.5 1105C2637.9 1113.3 2642.1 1136.2 2640 1150C2637.9 1163.8 2625 1183.3 2615 1187.5C2605 1191.7 2588.3 1183.3 2580 1175C2571.7 1166.7 2565.4 1150 2565 1137.5C2564.6 1125 2567.1 1105.4 2577.5 1100Z" fill="#862a80" opacity="0.7" filter="url(#b16)"/>
<path d="M2640 1187.5C2649.2 1177.1 2679.6 1170.8 2690 1175C2700.4 1179.2 2706.7 1200 2702.5 1212.5C2698.3 1225 2676.2 1245.8 2665 1250C2653.8 1254.2 2639.2 1247.9 2635 1237.5C2630.8 1227.1 2630.8 1197.9 2640 1187.5Z" fill="#8a2c90" opacity="0.7" filter="url(#b16)"/>
<path d="M2510 1175C2518.3 1166.7 2551.7 1166.7 2565 1175C2578.3 1183.3 2590.8 1209.2 2590 1225C2589.2 1240.8 2572.5 1270 2560 1270C2547.5 1270 2523.3 1240.8 2515 1225C2506.7 1209.2 2501.7 1183.3 2510 1175Z" fill="#942e44" opacity="0.7" filter="url(#b16)"/>
<path d="M2560 1060C2562.5 1058.3 2573.3 1065.8 2575 1070C2576.7 1074.2 2572.5 1083.3 2570 1085C2567.5 1086.7 2561.7 1084.2 2560 1080C2558.3 1075.8 2557.5 1061.7 2560 1060Z" fill="#2a1230" opacity="0.8" filter="url(#b4)"/>
<path d="M2527.5 1125C2530.4 1118.3 2545.4 1111.7 2547.5 1115C2549.6 1118.3 2542.9 1138.3 2540 1145C2537.1 1151.7 2532.1 1158.3 2530 1155C2527.9 1151.7 2524.6 1131.7 2527.5 1125Z" fill="#2a1230" opacity="0.7" filter="url(#b5)"/>
<path d="M2545 1020C2551.7 1012.5 2585.8 997.5 2595 995C2604.2 992.5 2606.7 997.5 2600 1005C2593.3 1012.5 2564.2 1037.5 2555 1040C2545.8 1042.5 2538.3 1027.5 2545 1020Z" fill="#6a1c30" opacity="0.5" filter="url(#b6)"/>
<path d="M2637.5 922.5C2636.2 931.2 2632.1 953.8 2630 975C2627.9 996.2 2625.8 1027.1 2625 1050C2624.2 1072.9 2625 1102.1 2625 1112.5" fill="none" stroke="#5a1c3a" stroke-width="4" stroke-linecap="round" opacity="0.6" filter="url(#b2)"/>
<path d="M2623.8 1075C2624.2 1080.4 2625.8 1102.1 2626.2 1107.5" fill="none" stroke="#c8b070" stroke-width="4" stroke-linecap="round" opacity="0.85"/>
<path d="M2665 1095C2667.9 1097.9 2679.6 1109.6 2682.5 1112.5" fill="none" stroke="#c8a050" stroke-width="5" stroke-linecap="round" opacity="0.85"/>
</g></g>
<g filter="url(#s1)">
<path d="M2980 925C2988.8 921 3000 921.5 3010 921.2C3020 921 3030.8 922.9 3040 923.8C3049.2 924.6 3056.7 924 3065 926.2C3073.3 928.5 3082.5 932.7 3090 937.5C3097.5 942.3 3104.6 948.3 3110 955C3115.4 961.7 3120 969.6 3122.5 977.5C3125 985.4 3125.8 994.6 3125 1002.5C3124.2 1010.4 3120.8 1018.3 3117.5 1025C3114.2 1031.7 3105.4 1035.8 3105 1042.5C3104.6 1049.2 3112.1 1057.1 3115 1065C3117.9 1072.9 3120 1081.7 3122.5 1090C3125 1098.3 3129.2 1106.7 3130 1115C3130.8 1123.3 3129.6 1132.1 3127.5 1140C3125.4 1147.9 3120.4 1155 3117.5 1162.5C3114.6 1170 3112.9 1178.3 3110 1185C3107.1 1191.7 3103.3 1197.1 3100 1202.5C3096.7 1207.9 3093.3 1212.1 3090 1217.5C3086.7 1222.9 3085.8 1229.2 3080 1235C3074.2 1240.8 3064.2 1247.9 3055 1252.5C3045.8 1257.1 3035.8 1259.6 3025 1262.5C3014.2 1265.4 3002.1 1268.8 2990 1270C2977.9 1271.2 2962.9 1273.3 2952.5 1270C2942.1 1266.7 2935.4 1256.7 2927.5 1250C2919.6 1243.3 2910.2 1237.5 2905 1230C2899.8 1222.5 2897.3 1213.3 2896.2 1205C2895.2 1196.7 2896 1187.9 2898.8 1180C2901.5 1172.1 2907.7 1163.3 2912.5 1157.5C2917.3 1151.7 2927.5 1149.6 2927.5 1145C2927.5 1140.4 2913.3 1135.4 2912.5 1130C2911.7 1124.6 2918.3 1118.8 2922.5 1112.5C2926.7 1106.2 2934.6 1099.6 2937.5 1092.5C2940.4 1085.4 2940.4 1077.9 2940 1070C2939.6 1062.1 2936.7 1054.2 2935 1045C2933.3 1035.8 2930 1023.3 2930 1015C2930 1006.7 2932.5 1002.5 2935 995C2937.5 987.5 2941.2 978.3 2945 970C2948.8 961.7 2951.7 952.5 2957.5 945C2963.3 937.5 2971.2 929 2980 925Z" fill="url(#gd3)"/>
<g clip-path="url(#cd3)">
<path d="M3077.5 937.5C3083.8 935.4 3107.1 952.1 3115 962.5C3122.9 972.9 3127.1 991.7 3125 1000C3122.9 1008.3 3110.4 1016.7 3102.5 1012.5C3094.6 1008.3 3081.7 987.5 3077.5 975C3073.3 962.5 3071.2 939.6 3077.5 937.5Z" fill="#983066" opacity="0.6" filter="url(#b12)"/>
<path d="M3045 950C3043.3 960.4 3038.3 991.7 3035 1012.5C3031.7 1033.3 3026.7 1064.6 3025 1075" fill="none" stroke="#b04858" stroke-width="2" stroke-linecap="round" opacity="0.7"/>
<path d="M3025 1057.5C3025.1 1060.8 3025.4 1074.2 3025.5 1077.5" fill="none" stroke="#d0b080" stroke-width="4" stroke-linecap="round" opacity="0.85"/>
<path d="M3072.5 1072.5C3074.4 1074.8 3081.9 1084 3083.8 1086.2" fill="none" stroke="#d0b080" stroke-width="3" stroke-linecap="round" opacity="0.85"/>
</g></g>
<g filter="url(#s1)">
<path d="M3400 927.5C3408.3 922.7 3415.8 922.3 3425 921.2C3434.2 920.2 3445 920.4 3455 921.2C3465 922.1 3475.8 924 3485 926.2C3494.2 928.5 3502.5 931 3510 935C3517.5 939 3524.2 944.2 3530 950C3535.8 955.8 3541.2 962.5 3545 970C3548.8 977.5 3551 986.7 3552.5 995C3554 1003.3 3554.6 1012.1 3553.8 1020C3552.9 1027.9 3549 1035 3547.5 1042.5C3546 1050 3544.2 1057.1 3545 1065C3545.8 1072.9 3550 1081.7 3552.5 1090C3555 1098.3 3557.9 1106.7 3560 1115C3562.1 1123.3 3565 1132.1 3565 1140C3565 1147.9 3561.7 1155 3560 1162.5C3558.3 1170 3557.1 1177.9 3555 1185C3552.9 1192.1 3550 1198.3 3547.5 1205C3545 1211.7 3543.8 1217.5 3540 1225C3536.2 1232.5 3530.8 1242.9 3525 1250C3519.2 1257.1 3512.5 1262.1 3505 1267.5C3497.5 1272.9 3489.2 1278.3 3480 1282.5C3470.8 1286.7 3460 1291.7 3450 1292.5C3440 1293.3 3429.2 1290.4 3420 1287.5C3410.8 1284.6 3402.9 1279.6 3395 1275C3387.1 1270.4 3379.2 1265.4 3372.5 1260C3365.8 1254.6 3359.6 1249.2 3355 1242.5C3350.4 1235.8 3346.2 1227.5 3345 1220C3343.8 1212.5 3344.6 1204.2 3347.5 1197.5C3350.4 1190.8 3357.1 1184.8 3362.5 1180C3367.9 1175.2 3380.4 1171.2 3380 1168.8C3379.6 1166.2 3363.8 1169 3360 1165C3356.2 1161 3356.2 1152.1 3357.5 1145C3358.8 1137.9 3364.6 1129.6 3367.5 1122.5C3370.4 1115.4 3374.2 1109.6 3375 1102.5C3375.8 1095.4 3374.2 1087.9 3372.5 1080C3370.8 1072.1 3367.1 1063.8 3365 1055C3362.9 1046.2 3360.4 1036.7 3360 1027.5C3359.6 1018.3 3360.8 1009.2 3362.5 1000C3364.2 990.8 3367.9 980.8 3370 972.5C3372.1 964.2 3370 957.5 3375 950C3380 942.5 3391.7 932.3 3400 927.5Z" fill="url(#gd4)"/>
<g clip-path="url(#cd4)">
<path d="M3362.5 1000C3367.1 988.8 3385.4 975 3390 987.5C3394.6 1000 3392.5 1056.2 3390 1075C3387.5 1093.8 3379.6 1103.3 3375 1100C3370.4 1096.7 3364.6 1071.7 3362.5 1055C3360.4 1038.3 3357.9 1011.2 3362.5 1000Z" fill="#8e2e54" opacity="0.6" filter="url(#b12)"/>
<path d="M3485 925C3489.2 921.7 3516.2 936.7 3525 945C3533.8 953.3 3541.7 971.7 3537.5 975C3533.3 978.3 3508.8 973.3 3500 965C3491.2 956.7 3480.8 928.3 3485 925Z" fill="#963064" opacity="0.5" filter="url(#b10)"/>
<path d="M3360 1165C3364.6 1162.5 3385.8 1159.4 3390 1160C3394.2 1160.6 3389.6 1166.2 3385 1168.8C3380.4 1171.2 3366.7 1175.6 3362.5 1175C3358.3 1174.4 3355.4 1167.5 3360 1165Z" fill="#1a1010" opacity="0.8" filter="url(#b3)"/>
<path d="M3435 1290.5C3440 1288.7 3464.2 1286.8 3475 1283.5C3485.8 1280.2 3495.8 1272.4 3500 1271C3504.2 1269.6 3504.2 1272 3500 1275C3495.8 1278 3484.2 1285.5 3475 1288.8C3465.8 1292 3451.7 1294.2 3445 1294.5C3438.3 1294.8 3430 1292.3 3435 1290.5Z" fill="#a89840" opacity="0.7" filter="url(#b2)"/>
<path d="M3480 950C3478.8 962.5 3474.2 998.8 3472.5 1025C3470.8 1051.2 3470.4 1082.5 3470 1107.5C3469.6 1132.5 3470 1163.8 3470 1175" fill="none" stroke="#b04458" stroke-width="2" stroke-linecap="round" opacity="0.7"/>
</g></g>
<text x="280.5" y="123.8" font-size="84" fill="#231f20" font-weight="bold">A</text>
<text x="286" y="1618" font-size="84" fill="#231f20" font-weight="bold">B</text>
<text x="1920" y="1618" font-size="84" fill="#231f20" font-weight="bold">C</text>
<text x="431" y="144.5" font-size="82" fill="#fff" font-weight="bold">a</text>
<text x="2067" y="144.5" font-size="82" fill="#fff" font-weight="bold">b</text>
<text x="431" y="823" font-size="82" fill="#fff" font-weight="bold">c</text>
<text x="2066" y="823" font-size="82" fill="#fff" font-weight="bold">d</text>
<text x="483" y="270" font-size="67" fill="#fff">1 d</text>
<text x="877" y="270" font-size="67" fill="#fff">2 d</text>
<text x="1297" y="270" font-size="67" fill="#fff">3 d</text>
<text x="1714" y="270" font-size="67" fill="#fff">4 d</text>
<text x="2136" y="248" font-size="67" fill="#fff">1 d</text>
<text x="2530" y="248" font-size="67" fill="#fff">2 d</text>
<text x="2980" y="216.5" font-size="67" fill="#fff">3 d</text>
<text x="3397" y="216.5" font-size="67" fill="#fff">4 d</text>
<text x="595" y="939" font-size="67" fill="#fff">1 d</text>
<text x="989" y="939" font-size="67" fill="#fff">2 d</text>
<text x="1410" y="939" font-size="67" fill="#fff">3 d</text>
<text x="1795" y="939" font-size="67" fill="#fff">4 d</text>
<text x="2159" y="900.5" font-size="67" fill="#fff">1 d</text>
<text x="2590" y="900.5" font-size="67" fill="#fff">2 d</text>
<text x="2995" y="900.5" font-size="67" fill="#fff">3 d</text>
<text x="3420" y="900.5" font-size="67" fill="#fff">4 d</text>
<text x="1848" y="685" font-size="67" fill="#fff">1 cm</text>
<rect x="1882.7" y="702.5" width="67.1" height="11.3" fill="#fff"/>
<text x="3486" y="685.5" font-size="67" fill="#fff">1 cm</text>
<rect x="3490.8" y="702.2" width="128.2" height="12" fill="#fff"/>
<text x="1855" y="1357" font-size="67" fill="#fff">1 cm</text>
<rect x="1886.5" y="1374.8" width="68.8" height="11.5" fill="#fff"/>
<text x="3487" y="1357.2" font-size="67" fill="#fff">1 cm</text>
<rect x="3527.2" y="1374" width="58.8" height="11.8" fill="#fff"/>
<rect x="709.5" y="2334.3" width="392.5" height="252.4" fill="#2e2a27"/>
<rect x="1282" y="1727.6" width="393.2" height="859.1" fill="#918687" stroke="#7a7072" stroke-width="1.2"/>
<rect x="810.3" y="2326.7" width="190.6" height="8.5" fill="#1c1817"/><rect x="901.6" y="2326.7" width="8" height="13.3" fill="#1c1817"/>
<rect x="1383.1" y="1704" width="191" height="9.4" fill="#1c1817"/><rect x="1474.6" y="1704" width="8" height="31" fill="#1c1817"/>
<path d="M624 1632.4L624 2589.7" stroke="#231f20" stroke-width="6" fill="none"/>
<path d="M621 2586.7L1772.6 2586.7" stroke="#231f20" stroke-width="6" fill="none"/>
<path d="M624 2348.8L641.5 2348.8" stroke="#231f20" stroke-width="6" fill="none"/>
<text x="590" y="2373.2" font-size="67" fill="#231f20" text-anchor="end">1</text>
<path d="M624 2111L641.5 2111" stroke="#231f20" stroke-width="6" fill="none"/>
<text x="590" y="2135.3" font-size="67" fill="#231f20" text-anchor="end">2</text>
<path d="M624 1873.1L641.5 1873.1" stroke="#231f20" stroke-width="6" fill="none"/>
<text x="590" y="1897.4" font-size="67" fill="#231f20" text-anchor="end">3</text>
<path d="M624 1635.3L641.5 1635.3" stroke="#231f20" stroke-width="6" fill="none"/>
<text x="590" y="1659.6" font-size="67" fill="#231f20" text-anchor="end">4</text>
<text x="591" y="2610.2" font-size="67" fill="#231f20" text-anchor="end">0</text>
<text x="905" y="2284.2" font-size="67" fill="#231f20" text-anchor="middle">b</text>
<text x="1477" y="1669" font-size="67" fill="#231f20" text-anchor="middle">a</text>
<text x="905" y="2673.7" font-size="67" fill="#231f20" text-anchor="middle">CK</text>
<text x="1480" y="2674.6" font-size="67" fill="#231f20" text-anchor="middle" font-style="italic">UrSTR4</text>
<text x="1188.5" y="2803.5" font-size="67" fill="#231f20" text-anchor="middle"><tspan class="cj">处理</tspan>Treatment</text>
<text transform="translate(415 2110) rotate(-90)" font-size="67" fill="#231f20" text-anchor="middle"><tspan font-style="italic">UrSTR4</tspan><tspan class="cj">基因表达量</tspan></text>
<text transform="translate(479.8 2112.5) rotate(-90)" font-size="67" fill="#231f20" text-anchor="middle">Relative expression of the <tspan font-style="italic">UrSTR4</tspan> gene</text>
<rect x="2452.8" y="2420.4" width="146.4" height="166.3" fill="#2e2a27"/>
<rect x="2669" y="2264.2" width="145.6" height="322.5" fill="#918687" stroke="#7a7072" stroke-width="1.2"/>
<rect x="3028.8" y="2096" width="146.2" height="490.7" fill="#2e2a27"/>
<rect x="3245.5" y="1696.6" width="146" height="890.1" fill="#918687" stroke="#7a7072" stroke-width="1.2"/>
<rect x="2507.4" y="2412.2" width="36" height="8.5" fill="#1c1817"/><rect x="2521.4" y="2412.2" width="8" height="12.8" fill="#1c1817"/>
<rect x="2723.2" y="2251.8" width="36" height="9" fill="#1c1817"/><rect x="2737.2" y="2251.8" width="8" height="16.2" fill="#1c1817"/>
<rect x="3083.5" y="2084.3" width="36" height="9" fill="#1c1817"/><rect x="3097.5" y="2084.3" width="8" height="15.7" fill="#1c1817"/>
<rect x="3300" y="1681.7" width="36" height="9.5" fill="#1c1817"/><rect x="3314" y="1681.7" width="8" height="18.3" fill="#1c1817"/>
<path d="M2350.3 1632.4L2350.3 2589.7" stroke="#231f20" stroke-width="6" fill="none"/>
<path d="M2347.3 2586.7L3501.7 2586.7" stroke="#231f20" stroke-width="6" fill="none"/>
<path d="M2350.3 2269.5L2367.8 2269.5" stroke="#231f20" stroke-width="6" fill="none"/>
<text x="2323.5" y="2292" font-size="67" fill="#231f20" text-anchor="end" word-spacing="0.5">2 000</text>
<path d="M2350.3 1952.3L2367.8 1952.3" stroke="#231f20" stroke-width="6" fill="none"/>
<text x="2323.5" y="1974.8" font-size="67" fill="#231f20" text-anchor="end" word-spacing="0.5">4 000</text>
<path d="M2350.3 1635.1L2367.8 1635.1" stroke="#231f20" stroke-width="6" fill="none"/>
<text x="2323.5" y="1657.6" font-size="67" fill="#231f20" text-anchor="end" word-spacing="0.5">6 000</text>
<text x="2323.5" y="2606.7" font-size="67" fill="#231f20" text-anchor="end">0</text>
<text x="2525.5" y="2369.4" font-size="67" fill="#231f20" text-anchor="middle">b</text>
<text x="2742" y="2213.7" font-size="67" fill="#231f20" text-anchor="middle">a</text>
<text x="3103.4" y="2041.3" font-size="67" fill="#231f20" text-anchor="middle">b</text>
<text x="3319.2" y="1631.1" font-size="67" fill="#231f20" text-anchor="middle">a</text>
<text x="2632.8" y="2680.8" font-size="67" fill="#231f20" text-anchor="middle"><tspan class="cj">钩藤碱</tspan>RIN</text>
<text x="3209.6" y="2680.8" font-size="67" fill="#231f20" text-anchor="middle"><tspan class="cj">异钩藤碱</tspan>IRN</text>
<text x="2923.2" y="2802.1" font-size="67" fill="#231f20" text-anchor="middle"><tspan class="cj">生物碱</tspan>Alkaloids</text>
<rect x="2448.3" y="1611.8" width="84.2" height="50.9" fill="#2e2a27"/>
<rect x="2448.3" y="1688.8" width="84.2" height="51.2" fill="#918687" stroke="#7a7072" stroke-width="1.2"/>
<text x="2550.5" y="1656.9" font-size="67" fill="#231f20">CK</text>
<text x="2551.5" y="1739" font-size="66.5" fill="#231f20" font-style="italic">UrSTR4</text>
<text transform="translate(2058 2111.5) rotate(-90)" font-size="66.3" fill="#231f20" text-anchor="middle" class="cj">钩藤碱和异钩藤碱质量分数</text>
<text transform="translate(2124.4 2118.5) rotate(-90)" font-size="67" fill="#231f20" text-anchor="middle">Mass fraction of RIN and IRN/(μg<tspan dx="5">·</tspan><tspan dx="5">g</tspan><tspan font-size="40" dy="-28" dx="1">−1</tspan><tspan dy="28" dx="2">)</tspan></text>
</svg>
</body></html>
